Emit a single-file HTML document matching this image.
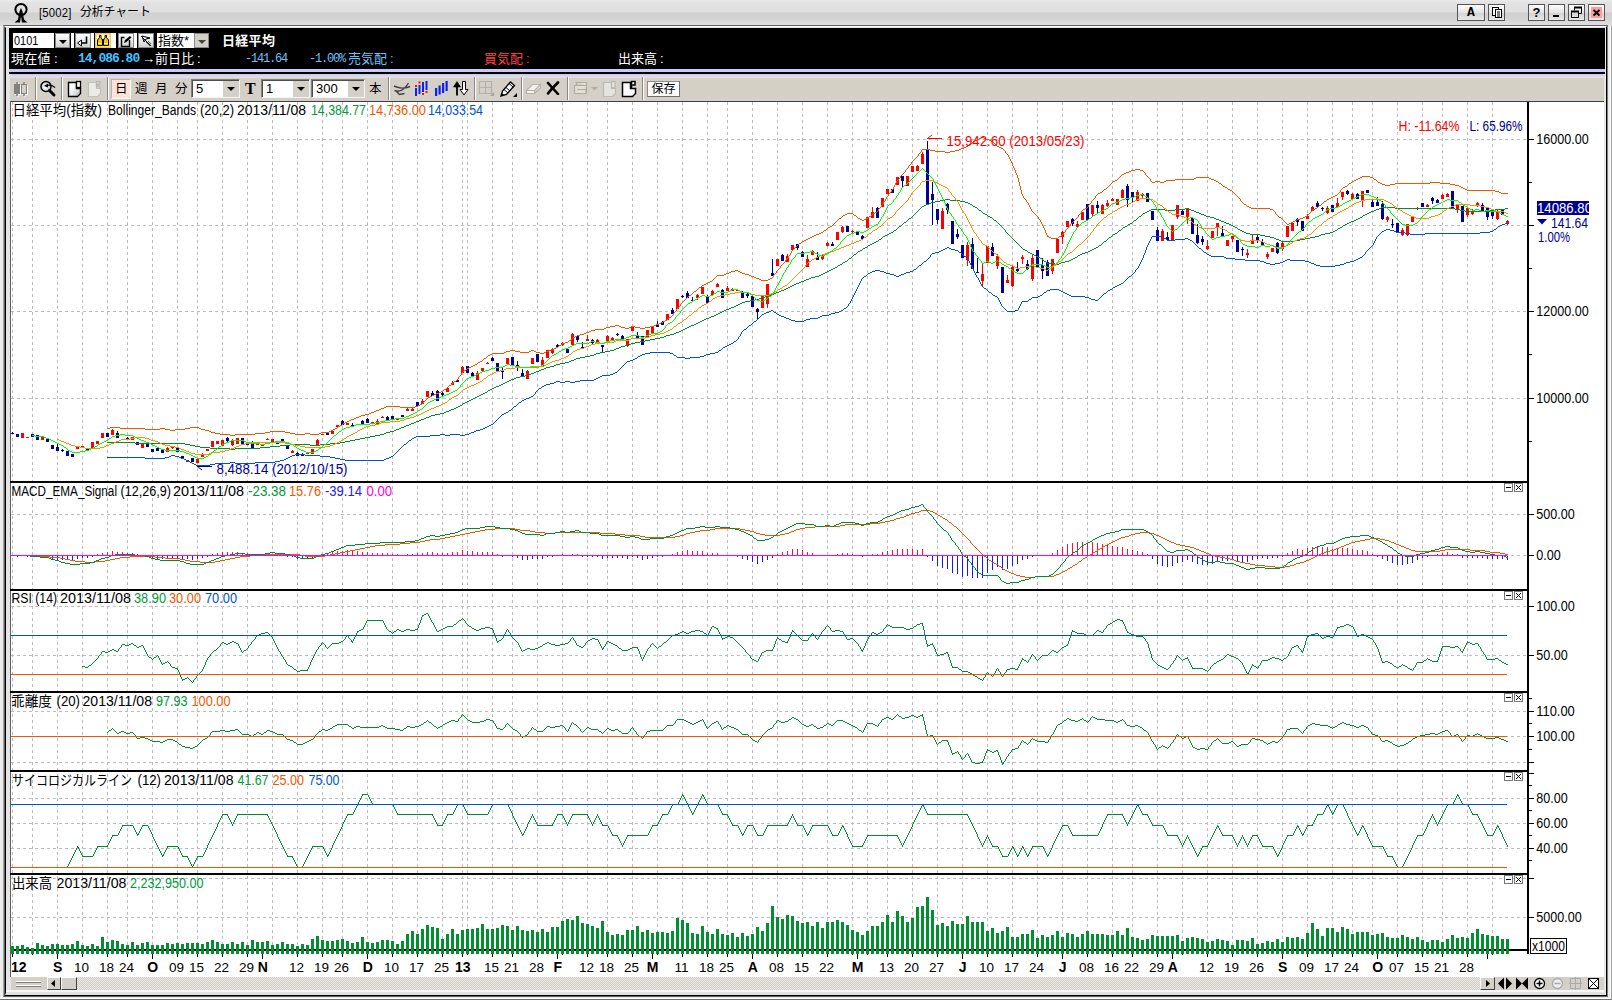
<!DOCTYPE html>
<html lang="ja"><head><meta charset="utf-8"><title>[5002] 分析チャート</title>
<style>
*{box-sizing:border-box;margin:0;padding:0}
html,body{width:1612px;height:1000px;overflow:hidden;background:#fff}
body{position:relative;font-family:"Liberation Sans","Noto Sans CJK JP",sans-serif;font-size:12px;color:#000}
.a{position:absolute}
#tb{left:0;top:0;width:1612px;height:26px;background:linear-gradient(#ebebeb 0,#e1e1e1 3px,#e0e0e0 12px,#cfcfcf 13px,#d3d3d3 18px,#dedede 25px)}
#ttl{left:39px;top:4px;font:12px/18px "Liberation Mono","Noto Sans CJK JP",monospace;white-space:pre}
#ttl i{font-style:normal;font:13px/18px "Liberation Sans",sans-serif;display:inline-block;transform:scaleX(.87);transform-origin:0 0;letter-spacing:.2px}
#ttl b{font-weight:normal;letter-spacing:-.2px;position:absolute;left:41px;top:0}
.wb{top:4px;width:17px;height:17px;border:1px solid #555;background:linear-gradient(#fdfdfd,#e4e4e4 50%,#d2d2d2 51%,#e8e8e8);text-align:center;font:bold 13px/15px "Liberation Sans",sans-serif}
#band{left:9px;top:28px;width:1596px;height:41px;background:#000}
.bt{color:#fff;font:13px/16px "Liberation Sans","Noto Sans CJK JP",sans-serif;white-space:pre;top:51px}
.ib{top:33px;height:15px;background:linear-gradient(#fff,#e6e6e6 55%,#d0d0d0);border:1px solid #888}
#tool{left:10px;top:74px;width:1594px;height:27px;background:linear-gradient(#c8cce8 0,#d4d6e6 2px,#dedede 2px,#dedede 4px,#d4d0c8 4px)}
.sep{top:77px;width:2px;height:23px;border-left:1px solid #8a8782;border-right:1px solid #fff}
  .tt{top:79px;font:12.5px/20px "Liberation Sans","Noto Sans CJK JP",sans-serif}
.cb{top:79px;height:19px;background:#fff;border:1px solid #808080;border-right-color:#f4f4f4;border-bottom-color:#f4f4f4;box-shadow:inset 1px 1px #505050;font:13px/17px "Liberation Sans",sans-serif;padding-left:4px}
.cb i{position:absolute;right:0;top:1px;width:16px;height:16px;background:#d4d0c8}
.cb i:after{content:"";position:absolute;left:4px;top:6px;border:4px solid transparent;border-top:4px solid #000;border-bottom:0}
</style></head>
<body>
<div class="a" id="tb"></div>
<svg class="a" style="left:13px;top:2px" width="17" height="22" viewBox="0 0 17 22"><circle cx="8" cy="7.5" r="5.6" fill="none" stroke="#000" stroke-width="2"/><path d="M8 6 L6.6 9 L5 17.5 L1.5 20.5 L7 20.5 L8 14 L9 20.5 L14.5 20.5 L11 17.5 L9.4 9 Z" fill="#000"/></svg>
<div class="a" id="ttl"><i>[5002]</i><b>分析チャート</b></div>
<div class="a wb" style="left:1457px;width:28px;font-family:'Liberation Mono',monospace">A</div>
<div class="a wb" style="left:1488px"><svg width="15" height="15" viewBox="0 0 15 15"><rect x="3.5" y="2.5" width="6" height="8" fill="#fff" stroke="#000"/><rect x="6.5" y="4.5" width="6" height="8" fill="#fff" stroke="#000"/><path d="M8 7h3M8 9h3M8 11h3" stroke="#000"/></svg></div>
<div class="a wb" style="left:1528px">?</div>
<div class="a wb" style="left:1548px"><svg width="15" height="15"><rect x="4" y="10" width="6" height="2" fill="#000"/></svg></div>
<div class="a wb" style="left:1568px"><svg width="15" height="15" viewBox="0 0 15 15"><path d="M5.5 5.5v-3h7v6h-3" fill="none" stroke="#000"/><path d="M5 2.5h8" stroke="#000" stroke-width="2"/><rect x="2.5" y="6.5" width="7" height="6" fill="none" stroke="#000"/><path d="M2 6.5h8" stroke="#000" stroke-width="2"/></svg></div>
<div class="a wb" style="left:1588px"><svg width="15" height="15" viewBox="0 0 15 15"><rect x="2" y="2" width="11" height="11" fill="#ff9c9c"/><path d="M4.500 5l6 5.500M10.500 5l-6 5.500" stroke="#000" stroke-width="1.800"/></svg></div>
<div class="a" style="left:0;top:26px;width:1612px;height:974px;background:#ececec;border-right:1px solid #a0a0a0;border-bottom:1px solid #707070"></div>
<div class="a" style="left:0;top:998px;width:1611px;height:1px;background:#fff"></div><div class="a" style="left:1610px;top:26px;width:1px;height:973px;background:#fff"></div>
<div class="a" style="left:3px;top:25px;width:1605px;height:972px;border:1px solid #606060;border-left-color:#a0a0a0;border-right-color:#808080;background:#e4e4e4"></div>
<div class="a" style="left:4px;top:26px;width:1603px;height:970px;border:1px solid #000;border-left-color:#606060;border-top-color:#fff"></div>
<div class="a" style="left:5px;top:27px;width:1601px;height:968px;border:1px solid #e0e0e0;border-left-color:#000;border-right-color:#ececec;border-bottom:2px solid #e0e0e0"></div>
<div class="a" style="left:6px;top:990px;width:1598px;height:2px;background:#f6f6f6"></div>
<div class="a" id="band"></div>
<div class="a" style="left:9px;top:69px;width:1596px;height:3px;background:#c8c8fa"></div>
<div class="a" style="left:9px;top:72px;width:1596px;height:2px;background:#000"></div>
<div class="a" style="left:13px;top:33px;width:41px;height:15px;background:#fff;font:13px/15px 'Liberation Sans',sans-serif;padding-left:1px;overflow:hidden"><span style="display:inline-block;transform:scaleX(.84);transform-origin:0 0">0101</span></div>
<div class="a ib" style="left:55px;width:15px"><svg width="13" height="14"><path d="M3 6h8l-4 4z" fill="#000"/></svg></div>
<div class="a" style="left:71px;top:33px;width:3px;height:15px;background:#fff"></div>
<div class="a ib" style="left:75px;width:16px"><svg width="14" height="14" viewBox="0 0 14 14"><path d="M10.5 2.5v6.5h-6" fill="none" stroke="#000" stroke-width="1.6"/><path d="M1.5 9l4-3v6z" fill="#fff" stroke="#000"/></svg></div>
<div class="a" style="left:91px;top:33px;width:3px;height:15px;background:#fff"></div>
<div class="a" style="left:95px;top:33px;width:16px;height:15px;background:#fffdf0;border:1px solid #f8c830;box-shadow:inset 0 0 0 1px #ffe080"><svg width="14" height="13" viewBox="0 0 14 13"><g fill="#f4c400" stroke="#000" stroke-width="1"><path d="M3.500 1.500h1.500v2l1.500 2.500v5.500h-5v-5.500l2-2.500z"/><path d="M9 1.500h1.500v2l2 2.500v5.500h-5v-5.500l1.500-2.500z"/></g><rect x="6" y="5" width="2" height="2.500" fill="#000"/><path d="M2.500 9.500h3M8.500 9.500h3" stroke="#fff" stroke-width=".8"/></svg></div>
<div class="a" style="left:111px;top:33px;width:5px;height:15px;background:#fff"></div>
<div class="a ib" style="left:118px;width:16px"><svg width="14" height="14" viewBox="0 0 14 14"><path d="M10.5 6v6.5h-8v-9h3" fill="none" stroke="#000" stroke-width="1.4"/><path d="M5 9l1-3 5-4 1.5 1.5-5 4.5z" fill="#000"/></svg></div>
<div class="a" style="left:134px;top:33px;width:3px;height:15px;background:#fff"></div>
<div class="a ib" style="left:138px;width:16px"><svg width="14" height="14" viewBox="0 0 14 14"><path d="M2 2l10 10M3 2l2 6 2-3 4-1z" fill="none" stroke="#000"/><path d="M7 8l4 4M9 7l3 3" stroke="#555"/></svg></div>
<div class="a" style="left:157px;top:33px;width:37px;height:15px;background:#fff;font:13px/15px 'Liberation Sans','Noto Sans CJK JP',sans-serif;padding-left:1px;white-space:pre;overflow:hidden">指数*</div>
<div class="a ib" style="left:194px;width:15px;background:#d4d0c8"><svg width="13" height="14"><path d="M3 6h8l-4 4z" fill="#444"/></svg></div>
<div class="a" style="left:222px;top:33px;color:#fff;font:bold 13px/16px 'Liberation Sans','Noto Sans CJK JP',sans-serif;letter-spacing:.3px">日経平均</div>
<div class="a bt" style="left:11px;letter-spacing:.3px">現在値<span style="margin-left:3px">:</span></div>
<div class="a bt" style="left:78px;color:#40c4ff;font-weight:bold;font-family:'Liberation Mono',monospace;letter-spacing:-1px">14,086.80</div>
<div class="a bt" style="left:142px">→前日比<span style="margin-left:3px">:</span></div>
<div class="a bt" style="left:245px;color:#6cc4ff;font-family:'Liberation Mono',monospace;font-size:12px;letter-spacing:-1.2px">-141.64</div>
<div class="a bt" style="left:309px;color:#6cc4ff;font-family:'Liberation Mono',monospace;font-size:12px;letter-spacing:-1.2px">-1.00%</div>
<div class="a bt" style="left:348px;color:#6cc4ff">売気配<span style="margin-left:3px">:</span></div>
<div class="a bt" style="left:484px;color:#ff4040">買気配<span style="margin-left:3px">:</span></div>
<div class="a bt" style="left:618px">出来高<span style="margin-left:3px">:</span></div>
<div class="a" id="tool"></div>
<div class="a sep" style="left:35px"></div>
<div class="a sep" style="left:61px"></div>
<div class="a sep" style="left:107px"></div>
<div class="a sep" style="left:388px"></div>
<div class="a sep" style="left:474px"></div>
<div class="a sep" style="left:521px"></div>
<div class="a sep" style="left:567px"></div>
<div class="a sep" style="left:642px"></div>
<svg class="a" style="left:13px;top:81px" width="16" height="17" viewBox="0 0 16 17"><g fill="#fff" stroke="#fff"><rect x="2.5" y="4.5" width="5" height="9"/><path d="M5 2v14M12 2v14"/><rect x="9.5" y="4.5" width="5" height="9" fill="none"/></g><rect x="1" y="3" width="6" height="10" fill="#808080"/><path d="M4 1v14M11 1v14" stroke="#808080" stroke-width="1.6"/><rect x="8.5" y="3.5" width="5" height="9" fill="#d4d0c8" stroke="#808080"/></svg>
<svg class="a" style="left:39px;top:79px" width="19" height="19" viewBox="0 0 19 19"><defs><radialGradient id="mg" cx=".4" cy=".6"><stop offset="0" stop-color="#fff"/><stop offset="1" stop-color="#ccc"/></radialGradient></defs><circle cx="7" cy="7.5" r="5" fill="url(#mg)" stroke="#000" stroke-width="1.5"/><path d="M10.5 11.5l4.5 4.5" stroke="#000" stroke-width="3" stroke-linecap="round"/><path d="M5 7l4-2.5v4z" fill="#000"/><path d="M8 6.5c3-1 6 0 8 2" fill="none" stroke="#000" stroke-width="1.2"/></svg>
<svg class="a" style="left:67px;top:80px" width="16" height="18" viewBox="0 0 16 18"><defs><linearGradient id="dg" x1="0" y1="0" x2="1" y2="1"><stop offset="0.3" stop-color="#fff"/><stop offset="1" stop-color="#bbb"/></linearGradient></defs><path d="M1.5 2.500h8v6h4v5l-3 3h-9z" fill="url(#dg)" stroke="#000" stroke-width="1.4"/><rect x="9.500" y="1.500" width="4" height="6" fill="#fff" stroke="#000" stroke-width="1.3"/></svg>
<svg class="a" style="left:87px;top:80px" width="16" height="18" viewBox="0 0 16 18"><path d="M1.5 2.5h8v6h4v5l-3 3h-9z" fill="#ecebe8" stroke="#c4c0b8" stroke-width="1.2"/><path d="M9.5 7.500v-6h3.500v3h-3l3.500 3" fill="none" stroke="#bab6ae" stroke-width="1.2"/></svg>
<div class="a" style="left:111px;top:79px;width:20px;height:20px;background:#ffe2d8;border:1px solid #b9b5ad;border-right-color:#fff;border-bottom-color:#fff"></div>
<div class="a tt" style="left:115px">日</div>
<div class="a tt" style="left:135px">週</div>
<div class="a tt" style="left:155px">月</div>
<div class="a tt" style="left:175px">分</div>
<div class="a tt" style="left:369px">本</div>
<div class="a cb" style="left:191px;width:49px">5<i></i></div>
<div class="a" style="left:245px;top:79px;font:bold 16px/20px 'Liberation Serif',serif">T</div>
<div class="a cb" style="left:261px;width:49px">1<i></i></div>
<div class="a cb" style="left:311px;width:54px">300<i></i></div>
<svg class="a" style="left:393px;top:81px" width="18" height="16" viewBox="0 0 18 16"><path d="M1 5c5 2.500 10 3 16 .5M1.500 9.500c5 2 10-1 14-7.500M2.500 9.500l4 4 5-1" fill="none" stroke="#404040" stroke-width="1.400"/></svg>
<svg class="a" style="left:414px;top:80px" width="15" height="17" viewBox="0 0 15 17"><g fill="#1020f0"><rect x="1" y="8" width="2" height="8"/><rect x="4.500" y="5" width="2" height="9"/><rect x="8" y="2" width="2" height="10"/><rect x="11.500" y="1" width="2" height="9"/></g><g fill="#f01010"><rect x="1" y="5" width="2" height="2"/><rect x="4.500" y="1.500" width="2" height="2"/><rect x="8" y="13" width="2" height="2"/><rect x="11.500" y="11" width="2" height="2"/></g></svg>
<svg class="a" style="left:434px;top:80px" width="15" height="17" viewBox="0 0 15 17"><g fill="#1020f0"><rect x="1" y="8" width="2.200" height="8"/><rect x="4.500" y="5.500" width="2.200" height="9"/><rect x="8" y="3" width="2.200" height="10"/><rect x="11.500" y="1" width="2.200" height="10"/></g></svg>
<svg class="a" style="left:452px;top:80px" width="18" height="17" viewBox="0 0 18 17"><path d="M5 15.500v-10" stroke="#000" stroke-width="1.800"/><path d="M1.500 7l3.500-5.500 3.500 5.500z" fill="#000" stroke="#000" stroke-width=".6"/><path d="M10.500 1.500h3v8h2.500l-4 5.500-4-5.500h2.500z" fill="#fff" stroke="#000" stroke-width="1"/></svg>
<svg class="a" style="left:478px;top:80px" width="17" height="17" viewBox="0 0 17 17"><path d="M1.5 1.500h12v12h-12zM1.500 7.500h12M7.500 1.500v12" fill="none" stroke="#b5b1a9" stroke-width="1.200"/><path d="M16 12v4h-4z" fill="#a8a49c"/></svg>
<svg class="a" style="left:499px;top:80px" width="19" height="18" viewBox="0 0 19 18"><path d="M2 16l1.500-5 8-9 4 3.500-8 9z" fill="#fff" stroke="#000" stroke-width="1.400"/><path d="M5 9.500l4 3.500M10 3.500l4 3.500M7 7.500l4 3.500" stroke="#000" stroke-width="1"/><path d="M2 16l1-3 2 2z" fill="#000"/><path d="M18 13v4h-4z" fill="#000"/></svg>
<svg class="a" style="left:525px;top:82px" width="17" height="13" viewBox="0 0 17 13"><path d="M1.5 8.500l6-6h8l-6 6zM1.500 8.500v3h8v-3M9.500 11.500l6-6v-3" fill="#f3f2ef" stroke="#b5b1a9" stroke-width="1.100"/></svg>
<svg class="a" style="left:546px;top:81px" width="14" height="14" viewBox="0 0 14 14"><path d="M2 2l10 11M12 1.500c-3 3-7 7-10 11" fill="none" stroke="#000" stroke-width="2.600" stroke-linecap="round"/></svg>
<svg class="a" style="left:574px;top:81px" width="24" height="14" viewBox="0 0 24 14"><path d="M2.500 1.500h10v11h-12v-8h2zM2.500 1.500v3h10M3 8.500h9v4" fill="#e2dfd8" stroke="#b0aca4" stroke-width="1.200"/><path d="M17 6h7l-3.500 3.500z" fill="#b0aca4"/></svg>
<svg class="a" style="left:602px;top:80px" width="16" height="18" viewBox="0 0 16 18"><path d="M1.500 2.500h8v6h4v5l-3 3h-9z" fill="#e6e4df" stroke="#bdb9b1" stroke-width="1.200"/><rect x="9.500" y="1.500" width="3.500" height="6" fill="#e6e4df" stroke="#bdb9b1" stroke-width="1.200"/></svg>
<svg class="a" style="left:621px;top:80px" width="17" height="18" viewBox="0 0 17 18"><path d="M1.500 2.500h8v6h5v5l-3 3h-10z" fill="#fff" stroke="#000" stroke-width="1.500"/><path d="M10.500 8.500v-7h3.500v3.500h-3.500" fill="#fff" stroke="#000" stroke-width="1.500"/></svg>
<div class="a" style="left:647px;top:81px;width:33px;height:16px;background:#fff;border:1px solid #8c8c8c;border-right-color:#707070;border-bottom-color:#707070;font:12px/14px 'Liberation Sans','Noto Sans CJK JP',sans-serif;text-align:center;letter-spacing:0">保存</div>
<svg class="a" style="left:0;top:0" width="1612" height="1000" viewBox="0 0 1612 1000" shape-rendering="crispEdges" font-family="Liberation Sans, Noto Sans CJK JP, sans-serif"><rect x="10" y="101" width="1594" height="876" fill="#fff"/>
<rect x="10" y="101" width="1594" height="1" fill="#404040"/>
<rect x="10" y="101" width="1" height="876" fill="#606060"/>
<path d="M12.5 102V954M32.5 102V954M57.5 102V954M82.5 102V954M107.5 102V954M127.5 102V954M152.5 102V954M177.5 102V954M197.5 102V954M222.5 102V954M247.5 102V954M272.5 102V954M297.5 102V954M322.5 102V954M342.5 102V954M367.5 102V954M392.5 102V954M417.5 102V954M442.5 102V954M462.5 102V954M467.5 102V954M492.5 102V954M512.5 102V954M537.5 102V954M562.5 102V954M587.5 102V954M607.5 102V954M632.5 102V954M657.5 102V954M682.5 102V954M707.5 102V954M727.5 102V954M752.5 102V954M777.5 102V954M802.5 102V954M827.5 102V954M852.5 102V954M867.5 102V954M887.5 102V954M912.5 102V954M937.5 102V954M962.5 102V954M987.5 102V954M1012.5 102V954M1037.5 102V954M1062.5 102V954M1087.5 102V954M1112.5 102V954M1132.5 102V954M1157.5 102V954M1182.5 102V954M1207.5 102V954M1232.5 102V954M1257.5 102V954M1282.5 102V954M1307.5 102V954M1332.5 102V954M1352.5 102V954M1372.5 102V954M1397.5 102V954M1422.5 102V954M1442.5 102V954M1467.5 102V954M1492.5 102V954M11 139.5H1527M11 225.5H1527M11 311.5H1527M11 398.5H1527M11 514.5H1527M11 555.5H1527M11 606.5H1527M11 655.5H1527M11 711.5H1527M11 736.5H1527M11 762.5H1527M11 798.5H1527M11 823.5H1527M11 848.5H1527M11 878.5H1527M11 917.5H1527" stroke="#bcbcbc" stroke-width="1" stroke-dasharray="3 3" fill="none"/>
<path d="M22.5 433V438M27.5 437V438M42.5 437V440M77.5 447V449M82.5 446V447M92.5 442V448M97.5 441V444M102.5 433V438M112.5 429V435M132.5 437V440M142.5 444V448M167.5 447V452M172.5 446V449M187.5 460V462M197.5 459V463M202.5 453V457M207.5 449V451M212.5 441V447M217.5 441V444M222.5 440V446M232.5 439V446M237.5 438V444M257.5 443V445M262.5 444V446M267.5 438V440M272.5 439V442M292.5 450V453M307.5 453V454M312.5 449V454M317.5 439V445M322.5 434V435M332.5 430V434M337.5 425V427M347.5 423V425M357.5 424V425M372.5 422V423M377.5 419V424M382.5 416V418M397.5 419V419M407.5 408V411M412.5 408V411M422.5 399V404M427.5 391V397M447.5 387V392M452.5 381V385M462.5 366V373M477.5 371V380M482.5 368V371M487.5 362V364M507.5 358V364M527.5 370V379M532.5 358V364M542.5 357V366M547.5 350V358M552.5 348V354M562.5 342V346M572.5 333V345M587.5 335V341M597.5 339V343M607.5 335V342M612.5 337V341M627.5 339V347M632.5 326V331M647.5 330V337M652.5 327V334M667.5 314V320M677.5 299V309M697.5 294V300M702.5 287V294M712.5 290V295M717.5 283V287M727.5 286V291M732.5 288V291M737.5 289V291M762.5 296V308M767.5 284V308M777.5 259V266M787.5 254V262M792.5 245V250M807.5 255V267M812.5 250V255M822.5 254V260M827.5 242V246M837.5 232V240M842.5 226V233M852.5 230V234M867.5 217V228M872.5 207V218M882.5 198V207M887.5 189V194M897.5 177V185M907.5 176V186M912.5 166V172M917.5 165V171M922.5 152V164M942.5 208V229M967.5 242V266M982.5 264V287M987.5 246V263M997.5 254V269M1007.5 275V283M1012.5 266V287M1022.5 255V264M1032.5 255V281M1052.5 259V274M1057.5 238V253M1062.5 231V244M1067.5 221V227M1077.5 221V227M1082.5 212V220M1092.5 205V217M1102.5 204V214M1107.5 200V207M1112.5 198V201M1117.5 199V205M1122.5 189V198M1137.5 190V201M1142.5 193V198M1162.5 229V241M1172.5 225V240M1177.5 205V219M1187.5 208V224M1207.5 240V250M1212.5 231V238M1217.5 223V236M1227.5 240V246M1232.5 236V242M1247.5 249V258M1252.5 235V244M1267.5 252V259M1272.5 248V252M1282.5 242V251M1287.5 226V237M1292.5 223V231M1307.5 214V219M1312.5 206V211M1327.5 206V214M1337.5 198V207M1342.5 192V200M1352.5 193V199M1362.5 191V207M1387.5 216V222M1402.5 228V236M1407.5 224V236M1412.5 217V222M1417.5 207V210M1427.5 204V207M1442.5 194V199M1447.5 193V197M1457.5 205V213M1467.5 208V217M1472.5 209V215M1477.5 202V207M1497.5 209V220M1507.5 220V225" stroke="#ff0000" stroke-width="1" fill="none"/>
<path d="M12.5 432V434M17.5 434V437M32.5 434V437M37.5 435V440M47.5 438V442M52.5 445V449M57.5 444V451M62.5 449V452M67.5 451V456M72.5 454V457M87.5 449V450M107.5 433V437M117.5 431V438M122.5 434V435M127.5 437V439M137.5 442V445M147.5 442V447M152.5 449V452M157.5 448V451M162.5 450V453M177.5 448V452M182.5 456V459M192.5 458V462M227.5 437V442M242.5 438V445M247.5 443V445M252.5 441V448M277.5 441V444M282.5 439V442M287.5 446V449M297.5 452V456M302.5 453V456M327.5 433V435M342.5 420V425M352.5 423V427M362.5 420V424M367.5 418V423M387.5 416V420M392.5 416V419M402.5 415V417M417.5 402V406M432.5 391V396M437.5 390V401M442.5 392V396M457.5 379V382M467.5 366V373M472.5 372V376M492.5 357V361M497.5 363V372M502.5 368V379M512.5 357V365M517.5 361V371M522.5 369V377M537.5 354V362M557.5 344V347M567.5 348V353M577.5 336V342M582.5 342V349M592.5 339V345M602.5 345V352M617.5 333V336M622.5 335V340M637.5 332V338M642.5 336V345M657.5 321V327M662.5 321V325M672.5 308V314M682.5 295V298M687.5 291V298M692.5 297V302M707.5 295V303M722.5 289V298M742.5 291V298M747.5 293V298M752.5 296V307M757.5 308V319M772.5 259V276M782.5 254V261M797.5 244V250M802.5 251V257M817.5 252V260M832.5 242V246M847.5 226V232M857.5 232V235M862.5 235V239M877.5 207V218M892.5 189V193M902.5 176V187M927.5 141V205M932.5 182V225M937.5 209V224M947.5 203V214M952.5 221V244M957.5 229V239M962.5 245V258M972.5 238V269M977.5 258V273M992.5 243V256M1002.5 267V293M1017.5 262V272M1027.5 260V270M1037.5 250V267M1042.5 258V279M1047.5 260V276M1072.5 218V226M1087.5 204V220M1097.5 201V213M1127.5 184V207M1132.5 192V203M1147.5 193V202M1152.5 211V220M1157.5 227V241M1167.5 232V240M1182.5 210V215M1192.5 218V234M1197.5 224V244M1202.5 236V245M1222.5 226V237M1237.5 240V252M1242.5 247V256M1257.5 235V243M1262.5 239V245M1277.5 242V254M1297.5 218V226M1302.5 221V231M1317.5 201V207M1322.5 207V211M1332.5 205V212M1347.5 190V195M1357.5 193V199M1367.5 190V193M1372.5 199V207M1377.5 197V206M1382.5 201V220M1392.5 219V228M1397.5 223V232M1422.5 203V207M1432.5 197V204M1437.5 199V203M1452.5 191V208M1462.5 206V222M1482.5 203V211M1487.5 208V220M1492.5 211V219M1502.5 210V215" stroke="#000098" stroke-width="1" fill="none"/>
<path d="M21 433h3v5h-3zM26 437h3v1h-3zM41 437h3v3h-3zM76 447h3v2h-3zM81 446h3v1h-3zM91 442h3v6h-3zM96 441h3v3h-3zM101 433h3v5h-3zM111 430h3v5h-3zM131 437h3v3h-3zM141 444h3v4h-3zM166 448h3v4h-3zM171 447h3v1h-3zM186 460h3v2h-3zM196 459h3v4h-3zM201 454h3v3h-3zM206 449h3v2h-3zM211 441h3v6h-3zM216 441h3v3h-3zM221 440h3v6h-3zM231 441h3v4h-3zM236 438h3v6h-3zM256 443h3v2h-3zM261 444h3v2h-3zM266 439h3v1h-3zM271 439h3v3h-3zM291 451h3v2h-3zM306 453h3v1h-3zM311 449h3v5h-3zM316 440h3v5h-3zM321 434h3v1h-3zM331 431h3v3h-3zM336 425h3v2h-3zM346 423h3v2h-3zM356 424h3v1h-3zM371 422h3v1h-3zM376 421h3v3h-3zM381 417h3v1h-3zM396 419h3v1h-3zM406 409h3v2h-3zM411 409h3v2h-3zM421 401h3v3h-3zM426 391h3v6h-3zM446 388h3v4h-3zM451 383h3v2h-3zM461 367h3v6h-3zM476 373h3v7h-3zM481 368h3v3h-3zM486 363h3v1h-3zM506 358h3v6h-3zM526 371h3v8h-3zM531 358h3v6h-3zM541 360h3v6h-3zM546 350h3v8h-3zM551 349h3v4h-3zM561 343h3v2h-3zM571 334h3v11h-3zM586 339h3v2h-3zM596 340h3v3h-3zM606 336h3v6h-3zM611 338h3v3h-3zM626 339h3v6h-3zM631 326h3v5h-3zM646 330h3v7h-3zM651 327h3v7h-3zM666 314h3v6h-3zM676 299h3v10h-3zM696 295h3v3h-3zM701 287h3v7h-3zM711 291h3v4h-3zM716 284h3v3h-3zM726 288h3v3h-3zM731 289h3v2h-3zM736 290h3v1h-3zM761 296h3v12h-3zM766 284h3v20h-3zM776 259h3v7h-3zM786 256h3v6h-3zM791 245h3v5h-3zM806 259h3v8h-3zM811 251h3v4h-3zM821 255h3v4h-3zM826 243h3v3h-3zM836 232h3v8h-3zM841 227h3v5h-3zM851 231h3v1h-3zM866 217h3v11h-3zM871 212h3v6h-3zM881 198h3v9h-3zM886 189h3v5h-3zM896 177h3v8h-3zM906 176h3v10h-3zM911 166h3v6h-3zM916 166h3v5h-3zM921 154h3v10h-3zM941 211h3v18h-3zM966 245h3v15h-3zM981 274h3v7h-3zM986 246h3v17h-3zM996 256h3v10h-3zM1006 280h3v3h-3zM1011 267h3v19h-3zM1021 257h3v2h-3zM1031 258h3v21h-3zM1051 259h3v12h-3zM1056 239h3v14h-3zM1061 232h3v5h-3zM1066 221h3v6h-3zM1076 224h3v3h-3zM1081 212h3v8h-3zM1091 205h3v9h-3zM1101 205h3v9h-3zM1106 203h3v3h-3zM1111 199h3v2h-3zM1116 199h3v6h-3zM1121 190h3v8h-3zM1136 192h3v9h-3zM1141 194h3v2h-3zM1161 231h3v10h-3zM1171 225h3v15h-3zM1176 205h3v12h-3zM1186 208h3v9h-3zM1206 246h3v3h-3zM1211 231h3v7h-3zM1216 223h3v5h-3zM1226 240h3v6h-3zM1231 236h3v3h-3zM1246 253h3v2h-3zM1251 240h3v4h-3zM1266 254h3v3h-3zM1271 248h3v4h-3zM1281 243h3v6h-3zM1286 226h3v11h-3zM1291 223h3v8h-3zM1306 216h3v3h-3zM1311 207h3v4h-3zM1326 208h3v5h-3zM1336 203h3v4h-3zM1341 192h3v5h-3zM1351 194h3v5h-3zM1361 191h3v10h-3zM1386 217h3v3h-3zM1401 230h3v5h-3zM1406 224h3v11h-3zM1411 217h3v5h-3zM1416 208h3v1h-3zM1426 205h3v2h-3zM1441 195h3v4h-3zM1446 194h3v3h-3zM1456 205h3v5h-3zM1466 208h3v7h-3zM1471 211h3v3h-3zM1476 203h3v2h-3zM1496 212h3v7h-3zM1506 221h3v3h-3z" fill="#ff0000"/>
<path d="M11 433h3v1h-3zM16 434h3v3h-3zM31 434h3v3h-3zM36 435h3v5h-3zM46 438h3v4h-3zM51 445h3v4h-3zM56 447h3v4h-3zM61 450h3v1h-3zM66 451h3v5h-3zM71 454h3v3h-3zM86 449h3v1h-3zM106 433h3v4h-3zM116 433h3v5h-3zM121 434h3v1h-3zM126 438h3v1h-3zM136 442h3v3h-3zM146 442h3v5h-3zM151 449h3v3h-3zM156 448h3v3h-3zM161 450h3v3h-3zM176 448h3v4h-3zM181 456h3v3h-3zM191 458h3v4h-3zM226 438h3v3h-3zM241 438h3v7h-3zM246 443h3v2h-3zM251 443h3v5h-3zM276 441h3v3h-3zM281 439h3v3h-3zM286 446h3v3h-3zM296 453h3v3h-3zM301 454h3v2h-3zM326 433h3v2h-3zM341 421h3v4h-3zM351 425h3v2h-3zM361 421h3v3h-3zM366 419h3v4h-3zM386 417h3v3h-3zM391 416h3v3h-3zM401 415h3v2h-3zM416 402h3v4h-3zM431 393h3v3h-3zM436 391h3v10h-3zM441 393h3v2h-3zM456 380h3v2h-3zM466 366h3v7h-3zM471 373h3v3h-3zM491 358h3v3h-3zM496 363h3v9h-3zM501 370h3v2h-3zM511 357h3v8h-3zM516 365h3v3h-3zM521 373h3v4h-3zM536 354h3v8h-3zM556 345h3v2h-3zM566 349h3v4h-3zM576 336h3v4h-3zM581 347h3v2h-3zM591 340h3v3h-3zM601 345h3v2h-3zM616 334h3v1h-3zM621 336h3v4h-3zM636 335h3v3h-3zM641 336h3v9h-3zM656 325h3v2h-3zM661 322h3v3h-3zM671 310h3v4h-3zM681 296h3v1h-3zM686 293h3v5h-3zM691 300h3v1h-3zM706 296h3v7h-3zM721 290h3v8h-3zM741 293h3v5h-3zM746 294h3v2h-3zM751 296h3v11h-3zM756 309h3v3h-3zM771 273h3v3h-3zM781 255h3v6h-3zM796 244h3v4h-3zM801 252h3v5h-3zM816 257h3v3h-3zM831 244h3v2h-3zM846 226h3v6h-3zM856 232h3v3h-3zM861 236h3v3h-3zM876 208h3v10h-3zM891 189h3v4h-3zM901 176h3v5h-3zM926 150h3v55h-3zM931 194h3v6h-3zM936 209h3v11h-3zM946 204h3v6h-3zM951 221h3v23h-3zM956 234h3v3h-3zM961 245h3v13h-3zM971 244h3v25h-3zM976 272h3v1h-3zM991 247h3v9h-3zM1001 267h3v26h-3zM1016 269h3v2h-3zM1026 264h3v5h-3zM1036 250h3v17h-3zM1041 265h3v6h-3zM1046 262h3v14h-3zM1071 219h3v5h-3zM1086 204h3v16h-3zM1096 205h3v3h-3zM1126 186h3v14h-3zM1131 192h3v6h-3zM1146 193h3v9h-3zM1151 211h3v9h-3zM1156 230h3v11h-3zM1166 237h3v3h-3zM1181 211h3v4h-3zM1191 218h3v16h-3zM1196 235h3v8h-3zM1201 239h3v3h-3zM1221 233h3v4h-3zM1236 240h3v12h-3zM1241 249h3v1h-3zM1256 237h3v4h-3zM1261 242h3v3h-3zM1276 243h3v10h-3zM1296 219h3v3h-3zM1301 221h3v10h-3zM1316 203h3v4h-3zM1321 208h3v1h-3zM1331 205h3v7h-3zM1346 191h3v3h-3zM1356 194h3v5h-3zM1366 190h3v3h-3zM1371 202h3v5h-3zM1376 202h3v4h-3zM1381 204h3v15h-3zM1391 224h3v1h-3zM1396 223h3v9h-3zM1421 203h3v4h-3zM1431 198h3v3h-3zM1436 200h3v3h-3zM1451 191h3v17h-3zM1461 206h3v16h-3zM1481 205h3v6h-3zM1486 208h3v9h-3zM1491 211h3v5h-3zM1501 210h3v5h-3z" fill="#000098"/>
<g stroke="#f05800" fill="none"><path transform="translate(0 .5)" d="M710 281h2M935 151h10M950 151h5M610 326h5M619 326h2M631 326h4M650 326h4M107 428h3M120 428h25M160 428h5M185 428h5M199 428h2M335 428h2M1194 178h2M1209 178h2M1358 178h2M839 218h2M858 218h2M866 218h2M1300 218h3M860 219h2M864 219h2M1297 219h3M1098 193h2M1501 193h7M365 414h4M1331 197h2M1230 190h2M1467 190h28M1115 180h2M1166 180h9M1214 180h2M1354 180h2M810 237h2M1049 237h2M220 434h10M235 434h20M295 434h10M310 434h9M1327 199h2M1104 189h2M1228 189h2M1465 189h2M1085 208h2M1251 208h19M1315 208h2M569 340h2M1333 196h2M595 329h9M1382 184h3M1390 184h5M1450 184h5M1113 181h2M1155 181h5M1164 181h2M1216 181h2M1352 181h2M492 353h12M540 353h4M828 227h2M510 350h5M531 350h3M549 350h2M1291 222h2M209 431h2M270 431h15M329 431h2M1219 183h2M1349 183h2M1380 183h2M1395 183h35M1440 183h10M1122 174h2M843 215h2M854 215h2M1131 170h4M1140 170h3M589 331h2M1287 224h2M504 352h2M520 352h9M536 352h4M544 352h2M559 345h2M731 271h4M738 271h2M615 325h4M654 325h2M702 285h2M384 407h2M400 407h15M659 323h2M812 236h2M1047 236h2M1059 236h2M1100 192h2M1499 192h2M875 212h2M215 433h5M255 433h10M290 433h5M305 433h5M319 433h2M1324 201h2M604 328h2M625 328h4M640 328h5M145 429h15M165 429h5M175 429h10M201 429h4M333 429h2M1249 207h2M717 275h7M749 275h2M1329 198h2M756 278h3M770 278h2M386 406h14M415 406h3M1196 177h13M1360 177h2M1370 177h3M1319 205h2M420 404h2M979 138h2M984 138h2M862 220h2M1295 220h2M704 284h2M661 322h2M1293 221h2M751 276h3M922 149h8M959 149h2M473 365h2M804 240h2M1223 186h2M1345 186h2M1459 186h2M211 432h4M265 432h5M285 432h5M321 432h8M845 214h2M1126 172h3M345 422h2M1135 169h5M1362 176h8M819 233h2M1279 217h2M1303 217h2M930 150h5M955 150h4M110 427h10M190 427h9M606 327h4M621 327h4M629 327h2M635 327h5M645 327h5M1244 204h2M945 152h5M1152 182h3M1160 182h4M1378 182h2M1430 182h10M969 144h2M434 394h2M480 361h2M551 349h3M754 277h2M724 274h2M745 274h4M1225 187h2M1343 187h2M1461 187h2M436 393h3M1175 179h19M1211 179h3M1356 179h2M1374 179h2M1495 191h4M808 238h2M1051 238h7M575 336h2M354 418h2M847 213h6M873 213h2M490 354h2M656 324h3M170 430h5M205 430h4M331 430h2M577 335h3M1289 223h2M418 405h2M726 273h3M742 273h3M230 435h5M977 139h2M986 139h3M374 411h2M506 351h4M515 351h5M529 351h2M534 351h2M546 351h3M1385 185h5M1455 185h4M761 280h7M830 226h2M1247 206h2M449 385h2M591 330h4M464 370h2M586 332h3M729 272h2M740 272h2M432 395h2M869 216h2M1305 216h2M694 291h2M356 417h3M351 419h3M1083 209h2M1270 209h3M1313 209h2M471 366h2M444 389h2M1463 188h2M343 423h2M816 234h3M759 279h2M768 279h2M821 232h2M359 416h2M961 148h3M1001 148h2M799 243h2M669 317h2M441 391h2M376 410h3M1124 173h2M361 415h4M806 239h2M973 141h2M991 141h2M556 347h2M699 287h2M467 368h2M964 147h2M999 147h2M975 140h2M989 140h2M371 412h3M1335 195h2M340 425h2M824 230h2M562 343h3M735 270h3M981 137h3M565 342h3M584 333h2M430 396h2M966 146h2M997 146h2M488 355h2M381 408h3M484 358h2M469 367h2M814 235h2M706 283h2M663 321h2M439 392h2M708 282h2M665 320h2M1129 171h2M689 295h2M349 420h2M554 348h2M338 426h2M369 413h2M580 334h4M478 362h2M428 397h2M454 381h2M573 337h2M475 364h2M379 409h2M347 421h2M802 241h2"/><path transform="translate(.5 0)" d="M921 150v2M1005 151v2M667 319v1M687 297v1M899 178v1M1018 178v4M1118 178v1M1149 178v1M1373 178v1M1038 217v2M1076 218v1M1281 218v1M838 219v1M1039 219v1M1075 219v1M1282 219v1M911 162v2M1012 163v3M972 142v1M993 142v1M483 359v1M889 193v1M1021 190v4M1234 193v1M1338 193v1M886 197v2M1023 196v2M1095 196v2M1238 197v1M891 190v2M1103 190v1M1340 190v2M897 180v1M1150 179v2M1376 180v1M1058 237v1M885 199v2M1025 199v1M1093 199v1M1240 199v2M892 189v1M1020 186v4M1341 189v1M879 208v1M1030 207v2M674 312v1M887 196v1M1237 196v1M895 183v2M1019 182v4M1110 184v1M1221 184v1M1348 184v1M915 158v1M1009 157v2M896 181v2M1151 181v1M1377 181v1M1043 226v2M1068 227v1M914 159v1M1010 159v2M835 222v1M1041 222v2M1072 222v1M1285 222v1M1111 183v1M902 174v1M1016 173v2M1145 173v2M871 215v1M1036 215v1M1078 215v2M1277 215v1M1307 215v1M905 170v2M1015 170v3M833 224v1M1042 224v2M1070 224v2M776 271v2M890 192v1M1233 192v1M1339 192v1M1033 212v1M1081 211v2M1275 212v2M1310 212v1M884 201v1M1026 200v2M1091 201v2M1241 201v1M790 253v2M785 260v2M880 207v1M1087 207v1M1317 207v1M773 275v2M1024 198v1M1094 198v1M1239 198v1M714 278v1M900 176v2M1017 175v3M1119 177v1M1148 177v1M881 205v2M1029 205v2M1088 205v2M1246 205v1M837 220v1M1040 220v2M1074 220v1M1283 220v1M558 346v1M836 221v1M1073 221v1M1284 221v1M793 249v1M716 276v1M827 228v1M1044 228v2M1067 228v1M1003 149v1M784 262v1M912 161v1M1011 161v2M894 185v2M1108 186v1M446 388v1M823 231v1M1045 230v3M1065 230v2M853 214v1M872 214v1M1035 214v1M1079 214v1M1276 214v1M1308 214v1M904 172v1M1144 172v1M906 169v1M1014 168v2M1120 176v1M1147 176v1M1046 233v2M1063 233v1M913 160v1M841 217v1M857 217v1M868 217v1M1077 217v1M1004 150v1M908 166v2M1013 166v2M676 309v2M883 202v2M1028 203v2M1090 203v1M1243 203v1M1322 203v1M337 427v1M882 204v1M1089 204v1M1321 204v1M920 152v1M1112 182v1M1218 182v1M1351 182v1M995 144v1M907 168v1M452 383v1M918 154v2M1008 155v2M715 277v1M772 277v1M774 274v1M686 298v1M901 175v1M1121 175v1M1146 175v1M893 187v2M1107 187v1M898 179v1M1117 179v1M1102 191v1M1232 191v1M693 292v1M1034 213v1M1080 213v1M1309 213v1M701 286v1M789 255v1M1092 200v1M1326 200v1M971 143v1M994 143v1M826 229v1M1066 229v1M801 242v1M834 223v1M1071 223v1M1286 223v1M443 390v1M775 273v1M681 303v1M878 209v2M1031 209v2M1082 210v1M1273 210v1M1312 210v1M788 256v2M451 384v1M1109 185v1M1222 185v1M1347 185v1M668 318v1M688 296v1M712 280v1M832 225v1M680 304v2M458 377v2M1069 226v1M1318 206v1M968 145v1M996 145v1M457 379v1M842 216v1M856 216v1M1037 216v1M1278 216v1M794 248v1M487 356v1M698 288v1M798 244v1M1106 188v1M1227 188v1M1342 188v1M1062 234v1M713 279v1M1064 232v1M424 401v1M482 360v1M877 211v1M1032 211v1M1274 211v1M1311 211v1M903 173v1M673 313v2M684 300v1M462 372v1M679 306v1M778 269v1M888 194v2M1022 194v2M1096 195v1M1236 195v1M781 265v1M777 270v1M423 402v1M447 387v1M917 156v1M910 164v1M909 165v1M672 315v1M692 293v1M461 373v2M1097 194v1M1235 194v1M1337 194v1M1047 235v1M1061 235v1M791 251v2M425 400v1M787 258v1M919 153v1M1006 153v1M782 264v1M1027 202v1M1242 202v1M1323 202v1M685 299v1M448 386v1M463 371v1M677 308v1M1143 171v1M916 157v1M691 294v1M342 424v1M786 259v1M678 307v1M792 250v1M696 290v1M780 266v2M796 246v1M779 268v1M572 338v1M671 316v1M682 302v1M460 375v1M1007 154v1M422 403v1M795 247v1M426 399v1M783 263v1M456 380v1M675 311v1M571 339v1M486 357v1M459 376v1M697 289v1M466 369v1M797 245v1M561 344v1M477 363v1M427 398v1M683 301v1M453 382v1M568 341v1"/></g>
<g stroke="#0054c8" fill="none"><path transform="translate(0 .5)" d="M440 434h5M450 434h10M465 434h4M872 271h3M880 271h4M910 271h3M556 381h4M565 381h5M575 381h5M1047 290h3M1059 290h2M1108 290h2M1065 293h2M1104 293h2M1245 260h15M1285 260h2M1290 260h15M1354 260h2M169 456h2M175 456h4M290 456h2M320 456h10M391 456h2M1384 230h2M1390 230h4M1067 294h2M932 253h3M650 352h20M715 352h3M107 457h38M165 457h4M179 457h2M288 457h2M330 457h5M389 457h2M1410 234h15M474 431h2M964 256h2M1211 256h13M192 463h2M215 463h15M235 463h20M1152 236h11M1405 233h5M1425 233h55M1270 264h5M1314 264h2M1340 264h4M677 357h8M690 357h10M145 458h20M181 458h3M286 458h2M335 458h5M386 458h3M919 265h2M1316 265h4M1335 265h5M924 261h2M1260 261h4M1283 261h2M1305 261h4M1350 261h4M1264 262h2M1280 262h3M1309 262h2M1346 262h4M171 455h4M292 455h3M305 455h15M1032 297h6M1085 297h4M416 436h14M771 310h2M841 310h2M1015 310h3M1396 232h9M1480 232h10M993 295h2M1040 295h2M1069 295h2M844 308h2M766 312h3M774 312h2M835 312h4M995 296h2M1038 296h2M1071 296h14M779 315h2M822 315h7M1235 259h10M1287 259h3M1356 259h2M1050 289h9M1110 289h2M769 311h2M839 311h2M1007 311h8M1175 239h10M1188 239h2M890 274h4M901 274h3M580 380h14M786 318h3M810 318h8M1266 263h4M1275 263h5M1311 263h3M1344 263h2M789 319h2M806 319h4M945 248h2M949 248h2M1199 248h2M754 321h2M795 321h9M491 424h2M875 270h5M989 292h2M1044 292h2M1063 292h2M184 459h2M284 459h2M340 459h5M384 459h2M1226 258h9M1358 258h2M550 383h4M196 465h14M868 273h2M886 273h4M904 273h2M640 355h2M674 355h2M704 355h2M188 461h2M275 461h5M984 288h2M638 356h2M700 356h4M190 462h2M230 462h5M255 462h20M935 252h4M959 252h2M1204 252h2M186 460h2M280 460h4M345 460h39M598 377h2M1061 291h2M594 379h2M725 346h2M1029 299h2M1091 299h4M943 249h2M951 249h4M762 314h2M777 314h2M829 314h2M635 358h2M685 358h5M630 360h3M1117 285h2M554 382h2M560 382h5M570 382h5M485 427h2M894 275h2M899 275h2M1164 238h2M1185 238h3M539 388h2M600 376h2M1382 231h2M1394 231h2M1490 231h3M784 317h2M818 317h2M1207 254h2M1320 266h15M1502 224h3M476 430h4M471 432h3M430 435h10M445 435h5M460 435h5M615 372h2M1115 286h2M194 464h2M210 464h5M941 250h2M955 250h3M642 354h3M706 354h4M602 375h8M1113 287h2M1022 301h6M526 398h3M404 444h2M522 400h2M480 429h3M546 384h4M1089 298h2M781 316h3M820 316h2M1119 284h2M870 272h2M884 272h2M906 272h4M506 412h2M727 345h2M723 347h2M864 276h2M896 276h3M1129 276h2M914 269h2M645 353h5M670 353h3M710 353h5M295 454h10M531 396h2M791 320h4M804 320h2M734 341h2M1505 223h3M1167 240h8M1190 240h2M1500 225h2M1209 255h2M627 361h3M414 437h2M483 428h2M1121 283h2M610 374h3M514 406h2M947 247h2M731 343h2M1095 300h3M524 399h2M1386 229h4M1494 229h2M613 373h2M764 313h2M831 313h4M939 251h2M1224 257h2M1360 257h2M744 329h2M412 438h2M504 413h2M749 325h2M529 397h2M633 359h2M1498 226h2M729 344h2M489 425h2M519 402h2M409 440h2M596 378h2M542 386h2M544 385h2M502 414h2M469 433h2M487 426h2M719 350h2M509 410h2"/><path transform="translate(.5 0)" d="M974 271v2M1135 270v2M856 289v2M987 290v1M854 293v2M991 293v1M1043 293v1M926 260v1M968 259v2M1141 260v2M1493 230v1M992 294v1M1042 294v1M1103 294v1M961 253v1M1144 253v2M1206 253v1M1365 252v2M1379 234v1M401 447v1M930 255v2M1143 255v3M1362 256v1M742 331v1M1377 236v1M1380 233v1M921 264v1M970 263v2M1139 264v2M637 357v1M971 265v2M969 261v2M923 262v1M1140 262v2M393 455v1M852 297v2M997 297v1M1100 297v1M1006 310v1M1381 232v1M853 295v2M1102 295v1M516 405v1M1004 308v1M1018 308v2M843 309v1M1005 309v1M1101 296v1M761 315v1M927 259v1M1142 258v2M986 289v1M773 311v1M1150 239v2M1166 239v1M1375 239v2M867 274v1M975 273v2M1132 274v1M849 303v1M1000 302v2M1021 302v2M758 318v1M495 421v1M922 263v1M741 332v2M757 319v1M1146 247v3M1369 248v1M913 270v1M973 269v2M855 291v2M1106 292v1M407 442v1M928 258v1M967 258v1M499 417v1M1133 273v1M857 287v2M1112 288v1M676 356v1M1145 250v3M988 291v1M1046 291v1M1107 291v1M861 279v2M979 280v2M1125 280v1M851 299v2M998 298v2M1098 299v1M1201 249v1M1368 249v1M1149 241v2M1193 242v1M1374 241v2M858 285v2M981 284v2M533 395v1M866 275v1M976 275v2M1131 275v1M1151 237v2M1376 237v2M617 371v1M1147 245v2M1196 245v1M1372 245v1M1148 243v2M1195 244v1M1373 243v2M759 317v1M931 254v1M962 254v1M1364 254v1M624 364v1M918 266v1M1138 266v2M501 415v1M747 327v1M400 448v1M982 286v1M860 281v2M1124 281v1M1202 250v1M1367 250v1M673 354v1M983 287v1M622 366v1M850 301v2M999 300v2M978 278v2M1126 279v1M916 268v1M972 267v2M1137 268v1M753 322v1M980 282v2M1123 282v1M1031 298v1M1099 298v1M760 316v1M859 283v2M917 267v1M846 307v1M1003 307v1M1019 306v2M1134 272v1M517 404v1M1136 269v1M1194 243v1M394 454v1M493 423v1M756 320v1M623 365v1M500 416v1M746 328v1M738 337v2M963 255v1M1363 255v1M534 394v1M541 387v1M1198 247v1M1370 247v1M740 334v2M1028 300v1M406 443v1M743 330v1M848 304v2M1001 304v2M1020 304v2M538 389v1M1378 235v1M776 313v1M399 449v1M513 407v1M958 251v1M1203 251v1M1366 251v1M929 257v1M966 257v1M621 367v1M521 401v1M397 451v1M739 336v1M508 411v1M863 277v1M977 277v1M1128 277v1M722 348v1M1163 237v1M1192 241v1M537 390v1M733 342v1M398 450v1M518 403v1M752 323v1M620 368v1M497 419v1M402 446v1M847 306v1M1002 306v1M862 278v1M1127 278v1M535 392v2M1197 246v1M1371 246v1M626 362v1M498 418v1M751 324v1M512 408v1M1497 227v1M396 452v1M403 445v1M618 370v1M737 339v1M625 363v1M411 439v1M748 326v1M721 349v1M494 422v1M536 391v1M511 409v1M1496 228v1M619 369v1M496 420v1M395 453v1M408 441v1M718 351v1M736 340v1"/></g>
<g stroke="#008c30" fill="none"><path transform="translate(0 .5)" d="M854 254h2M1032 254h2M1080 254h2M210 448h20M235 448h25M929 203h2M968 203h2M1185 208h4M1379 208h2M1395 208h60M1505 208h3M1038 257h2M1075 257h2M200 447h10M260 447h10M769 295h2M365 437h5M546 367h4M485 392h2M107 442h28M340 442h5M135 443h50M330 443h10M887 234h2M1113 234h2M1250 234h10M1321 234h4M635 342h5M863 248h2M1094 248h2M1338 228h2M195 446h5M270 446h10M424 418h2M355 439h5M190 445h5M280 445h10M310 445h10M394 430h2M940 200h5M950 200h10M1204 215h2M1363 215h2M600 352h5M790 286h2M975 207h2M1381 207h14M1147 211h2M1194 211h2M1371 211h3M1465 211h25M904 222h2M1224 222h2M1349 222h2M979 210h2M1149 210h2M1165 210h10M1191 210h3M1374 210h2M1460 210h5M1490 210h5M625 345h4M876 241h2M1104 241h2M1281 241h14M1221 221h3M1351 221h3M990 217h2M1210 217h4M1360 217h2M716 314h2M375 435h5M885 235h2M1260 235h5M1319 235h2M650 339h5M1274 238h2M1305 238h5M1036 256h2M711 316h3M370 436h5M616 348h3M731 307h3M1238 229h2M421 419h3M454 408h2M845 261h2M1044 261h2M1065 261h4M1242 231h2M1333 231h2M1028 252h2M1085 252h3M840 264h2M1055 264h4M473 398h2M411 423h3M687 327h2M590 355h4M776 292h3M492 388h2M806 279h3M683 329h2M879 239h2M1276 239h3M1300 239h5M1151 209h14M1175 209h10M1189 209h2M1376 209h3M1455 209h5M1495 209h10M520 376h5M1279 240h2M1295 240h5M870 244h2M401 427h3M456 407h2M605 351h5M511 379h3M722 311h2M1030 253h2M1082 253h3M446 411h3M565 362h4M779 291h2M440 413h4M843 262h2M1061 262h4M988 216h2M1139 216h2M1206 216h4M185 444h5M290 444h20M320 444h10M1047 263h8M1059 263h2M829 270h2M429 416h2M799 282h2M825 272h2M761 297h4M794 284h2M541 369h3M724 310h2M909 218h2M1214 218h2M1358 218h2M386 432h4M664 336h2M935 201h5M960 201h5M691 325h3M1071 259h2M1034 255h2M1078 255h2M435 414h5M745 301h5M827 271h2M874 242h2M645 340h5M544 368h2M610 350h4M640 341h5M759 298h2M390 431h4M230 449h5M889 233h2M1115 233h2M1246 233h4M1325 233h5M891 232h2M1244 232h2M1330 232h3M350 440h5M501 384h2M1145 212h2M1196 212h3M1369 212h2M1109 237h2M1270 237h4M1310 237h5M926 204h3M970 204h2M1023 249h2M1092 249h2M819 275h2M585 356h5M714 315h2M1123 227h2M1235 227h2M1340 227h2M883 236h2M1265 236h5M1315 236h4M614 349h2M576 358h4M704 319h2M525 375h4M1216 219h3M1356 219h2M554 365h2M399 428h2M514 378h2M676 332h3M431 415h4M670 334h4M765 296h4M631 343h4M444 412h2M660 337h4M621 346h4M858 251h2M1088 251h2M483 393h2M985 214h2M1201 214h3M1365 214h2M534 372h2M694 324h2M811 277h4M529 374h2M742 302h3M1130 223h2M1226 223h3M1347 223h2M516 377h4M531 373h3M471 399h2M409 424h2M804 280h2M835 267h2M872 243h2M868 245h2M1099 245h2M899 226h2M1125 226h2M1233 226h2M490 389h2M681 330h2M509 380h2M700 321h2M849 258h2M1040 258h2M1073 258h2M860 250h2M1025 250h2M1090 250h2M463 403h2M796 283h3M702 320h2M539 370h2M569 361h2M718 313h2M465 402h2M983 213h2M1143 213h2M1199 213h2M1367 213h2M738 304h2M865 247h2M1096 247h2M922 206h2M973 206h2M479 395h2M945 199h5M503 383h2M419 420h2M784 289h2M380 434h4M499 385h2M994 220h2M1134 220h2M1219 220h2M1354 220h2M709 317h2M580 357h5M360 438h5M815 276h4M786 288h2M467 401h2M666 335h4M560 363h5M550 366h4M396 429h3M792 285h2M750 300h5M689 326h2M655 338h5M619 347h2M931 202h4M965 202h3M924 205h2M481 394h2M596 353h4M1069 260h2M740 303h2M894 230h2M1119 230h2M1240 230h2M1335 230h2M449 410h2M781 290h3M801 281h3M833 268h2M469 400h2M406 425h3M1128 224h2M1229 224h2M1345 224h2M771 294h3M679 331h2M574 359h2M698 322h2M451 409h3M507 381h2M774 293h2M720 312h2M458 406h2M477 396h2M1231 225h2M1343 225h2M416 421h3M384 433h2M460 405h2M706 318h3M726 309h3M488 390h2M729 308h2M505 382h2M426 417h3M823 273h2M496 386h3M404 426h2M571 360h3M696 323h2M629 344h2M345 441h5M475 397h2M809 278h2M594 354h2M494 387h2M685 328h2M831 269h2M788 287h2M755 299h4M838 265h2M734 306h2M821 274h2M536 371h3M414 422h2M736 305h2M674 333h2M556 364h4"/><path transform="translate(.5 0)" d="M920 208v1M977 208v1M851 257v1M1008 234v1M1022 248v1M897 228v1M1003 228v1M1122 228v1M1237 228v1M913 215v1M987 215v1M1141 215v1M921 207v1M917 211v1M981 211v1M997 222v1M1132 222v1M918 210v1M1015 241v1M906 221v1M996 221v1M1133 221v1M911 217v1M1138 217v1M1009 235v1M1112 235v1M881 238v1M1012 238v1M1108 238v1M852 256v1M1077 256v1M896 229v1M1004 229v1M1121 229v1M1337 229v1M893 231v1M1005 230v2M1118 231v1M857 252v1M1013 239v1M1107 239v1M919 209v1M978 209v1M878 240v1M1014 240v1M1106 240v1M1018 244v1M1101 244v1M856 253v1M1046 262v1M912 216v1M1362 216v1M842 263v1M992 218v1M1137 218v1M848 259v1M1042 259v1M853 255v1M1016 242v1M1103 242v1M1007 233v1M1006 232v1M1117 232v1M916 212v1M982 212v1M882 237v1M1011 237v1M862 249v1M898 227v1M1002 227v1M1010 236v1M1111 236v1M908 219v1M993 219v1M1136 219v1M1027 251v1M914 214v1M1142 214v1M903 223v1M998 223v1M1017 243v1M1102 243v1M1019 245v1M1001 226v1M1342 226v1M867 246v1M1020 246v1M1098 246v1M915 213v1M1021 247v1M907 220v1M487 391v1M462 404v1M972 205v1M847 260v1M1043 260v1M837 266v1M902 224v1M999 224v1M901 225v1M1000 225v1M1127 225v1"/></g>
<g stroke="#ff9000" fill="none"><path transform="translate(0 .5)" d="M71 445h4M106 445h3M165 445h5M239 445h2M295 445h5M330 445h3M80 447h5M100 447h4M175 447h4M234 447h2M305 447h20M64 442h2M114 442h2M158 442h2M250 442h35M337 442h2M725 294h5M751 294h4M769 294h2M890 217h2M1104 217h2M1184 217h2M1330 217h2M1414 217h2M1429 217h2M849 244h2M983 244h2M1079 244h2M1267 244h3M1288 244h2M1108 214h2M1172 214h7M1335 214h2M1407 214h2M1438 214h2M720 295h5M755 295h14M846 245h3M985 245h2M1270 245h4M1286 245h2M670 329h2M864 237h2M1304 237h2M471 385h3M925 180h8M1115 210h2M1342 210h2M1400 210h2M1444 210h2M1494 210h2M416 415h3M631 338h14M1013 266h2M1025 266h5M1034 266h2M1124 205h2M1160 205h2M1454 205h2M1470 205h10M379 423h2M515 367h15M191 453h4M209 453h2M875 229h2M1223 229h2M1169 212h2M1338 212h2M1403 212h2M1504 212h2M859 240h2M1241 240h4M1250 240h10M1295 240h2M1126 204h3M1158 204h2M1352 204h2M1456 204h14M1199 227h2M1215 227h5M778 289h2M366 426h4M57 439h2M121 439h9M149 439h2M1113 211h2M1340 211h2M1496 211h8M816 257h2M678 323h2M841 247h3M1276 247h8M573 351h2M1137 199h3M1150 199h3M1365 199h19M812 259h2M943 186h2M530 366h14M61 441h3M116 441h3M155 441h3M339 441h2M717 296h3M419 414h2M861 239h2M1239 239h2M1297 239h3M381 422h9M1324 221h2M130 438h5M145 438h4M344 438h2M439 405h2M856 241h3M1245 241h5M1260 241h3M1293 241h2M735 292h14M773 292h2M660 333h4M1122 206h2M1349 206h2M1394 206h2M1451 206h3M1480 206h5M463 389h2M775 291h2M709 301h2M404 419h2M85 448h15M179 448h2M231 448h3M1201 228h14M1220 228h3M649 336h2M1179 215h2M1333 215h2M1409 215h2M1435 215h3M1118 208h2M1164 208h2M1346 208h2M1447 208h2M1489 208h2M1129 203h2M1354 203h2M1390 203h2M500 370h4M834 250h2M591 344h4M1194 224h2M1344 209h2M1398 209h2M1491 209h3M465 388h2M684 319h2M822 254h3M580 348h4M818 256h2M645 337h4M480 381h2M506 368h9M888 218h2M1186 218h2M1328 218h2M1416 218h13M360 429h2M427 410h2M595 343h10M496 371h4M1110 213h2M1405 213h2M1440 213h2M1506 213h2M1228 232h2M851 243h3M1265 243h2M1290 243h2M488 375h2M839 248h2M820 255h2M1237 238h2M1300 238h4M825 253h4M994 253h2M1068 253h2M1044 269h2M1048 269h2M66 443h3M111 443h3M160 443h2M245 443h5M285 443h5M335 443h2M59 440h2M119 440h2M151 440h4M341 440h2M666 331h2M1181 216h3M1411 216h3M1431 216h4M467 387h2M414 416h2M349 435h2M550 362h2M186 451h3M220 451h5M730 293h5M749 293h2M771 293h2M1140 198h10M1131 202h2M1356 202h3M1388 202h2M390 421h10M1133 201h2M1154 201h2M1359 201h2M1386 201h2M809 261h2M1059 261h2M69 444h2M109 444h2M162 444h3M241 444h4M290 444h5M333 444h2M1189 220h2M375 424h4M135 437h10M655 334h5M1017 268h3M1040 268h4M1050 268h2M1234 236h2M1306 236h2M436 406h3M1309 234h2M1010 265h3M1030 265h4M1054 265h2M854 242h2M1263 242h2M785 285h2M1015 267h2M1020 267h5M1036 267h4M1120 207h2M1449 207h2M1485 207h4M616 340h13M869 233h2M1230 233h2M844 246h2M1274 246h2M1284 246h2M195 454h14M922 181h3M933 181h2M783 286h2M561 358h3M75 446h5M104 446h2M170 446h5M236 446h3M300 446h5M325 446h5M445 402h2M629 339h2M469 386h2M879 226h2M1197 226h2M552 361h3M364 427h2M347 436h2M184 450h2M225 450h4M406 418h4M431 408h3M400 420h4M831 251h3M674 326h2M569 354h2M589 345h2M494 372h2M434 407h2M945 187h2M704 304h2M1135 200h2M1361 200h4M1384 200h2M478 382h2M939 184h2M555 360h4M873 230h2M1225 230h2M614 341h2M668 330h2M715 297h2M441 404h2M189 452h2M211 452h9M181 449h3M229 449h2M651 335h4M548 363h2M699 307h2M456 395h2M452 397h2M1319 225h2M605 342h9M575 350h2M425 411h2M355 432h2M474 384h2M421 413h2M780 288h2M935 182h2M577 349h3M423 412h2M1004 262h2M836 249h3M370 425h5M484 378h2M362 428h2M941 185h2M1007 264h3M429 409h2M449 399h2M829 252h2M1070 252h2M586 346h3M706 303h2M814 258h2M559 359h2M443 403h2M689 315h2M358 430h2M492 373h2M564 357h2M1046 270h2M476 383h2M937 183h2M353 433h2M713 298h2M410 417h4M546 364h2M664 332h2M504 369h2M584 347h2M351 434h2M544 365h2M566 356h2M490 374h2M680 322h2M702 305h2M454 396h2M694 311h2"/><path transform="translate(.5 0)" d="M966 216v2M867 235v1M976 234v2M1089 235v1M1233 235v1M1308 235v1M894 214v1M965 214v2M572 352v1M1078 245v1M978 237v2M1087 237v1M1236 237v1M897 210v1M962 210v1M1167 210v1M887 219v1M967 218v2M1102 219v1M1188 219v1M1327 219v1M805 265v2M1053 266v1M902 205v1M959 204v2M1351 205v1M1393 205v1M972 228v2M1093 229v2M1315 229v1M895 212v2M963 211v2M1112 212v1M1442 212v1M980 240v1M1084 240v1M903 204v1M1392 204v1M878 227v1M971 226v2M1095 227v1M1317 227v1M343 439v1M896 211v1M1168 211v1M1402 211v1M1443 211v1M999 257v1M1064 257v1M988 247v1M1076 247v1M908 198v2M955 198v2M1001 259v1M1062 259v1M918 186v1M911 193v2M951 193v2M979 239v1M1085 239v1M885 221v1M968 220v2M1100 221v1M1191 221v1M981 241v2M1083 241v1M901 206v1M960 206v2M1162 206v1M877 228v1M1094 228v1M1316 228v1M912 192v1M950 192v1M893 215v1M1107 215v1M899 208v1M961 208v2M1397 208v1M904 203v1M958 202v2M1157 203v1M991 250v1M1073 250v1M882 224v1M970 224v2M1097 224v1M1321 224v1M898 209v1M1117 209v1M1166 209v1M1446 209v1M711 300v1M996 254v1M1067 254v1M998 256v1M1065 256v1M872 231v1M973 230v2M1092 231v1M1227 231v1M1313 231v1M1103 218v1M357 431v1M792 279v1M910 195v2M953 196v1M964 213v1M1171 213v1M1337 213v1M811 260v1M1002 260v1M1061 260v1M871 232v1M974 232v1M1091 232v1M1312 232v1M982 243v1M1081 243v1M989 248v1M1075 248v1M997 255v1M1066 255v1M863 238v1M1086 238v1M799 272v1M802 269v1M448 400v1M892 216v1M1106 216v1M1332 216v1M701 306v1M905 202v1M1156 202v1M571 353v1M906 201v1M957 201v1M1003 261v1M886 220v1M1101 220v1M1326 220v1M346 437v1M803 268v1M866 236v1M977 236v1M1088 236v1M868 234v1M1090 233v2M1232 234v1M1082 242v1M1292 242v1M884 222v1M969 222v2M1099 222v1M1192 222v1M1323 222v1M804 267v1M1052 267v1M883 223v1M1098 223v1M1193 223v1M1322 223v1M900 207v1M1163 207v1M1348 207v1M1396 207v1M462 390v1M708 302v1M975 233v1M1311 233v1M987 246v1M1077 246v1M916 188v1M947 188v1M791 280v1M691 314v1M1096 225v2M1318 226v1M487 376v1M698 308v1M676 325v1M568 355v1M992 251v1M1072 251v1M917 187v1M907 200v1M956 200v1M1153 200v1M482 380v1M920 183v2M1314 230v1M881 225v1M1196 225v1M460 392v1M921 182v1M692 313v1M789 282v1M808 262v1M1058 262v1M712 299v1M990 249v1M1074 249v1M796 275v1M919 185v1M451 398v1M806 264v1M1056 264v1M913 191v1M949 191v1M672 328v1M993 252v1M915 189v1M948 189v2M1000 258v1M1063 258v1M952 195v1M782 287v1M807 263v1M1006 263v1M1057 263v1M459 393v1M682 321v1M909 197v1M954 197v1M790 281v1M486 377v1M697 309v1M788 283v1M795 276v1M801 270v1M914 190v1M797 274v1M483 379v1M794 277v1M696 310v1M447 401v1M683 320v1M686 318v1M793 278v1M693 312v1M800 271v1M458 394v1M688 316v1M787 284v1M673 327v1M777 290v1M677 324v1M687 317v1M461 391v1M798 273v1"/></g>
<g stroke="#00ff00" fill="none"><path transform="translate(0 .5)" d="M693 300h2M757 300h3M763 300h2M51 440h2M106 440h2M141 440h3M231 440h13M68 450h2M85 450h4M165 450h15M214 450h2M301 450h3M316 450h2M1338 206h2M1433 206h2M1465 206h2M1002 264h2M1032 264h11M1054 264h2M505 365h2M510 365h5M541 365h2M1098 212h2M1498 212h2M390 419h5M866 230h2M1173 230h2M1175 229h2M834 248h2M1277 248h6M856 231h4M864 231h2M1299 231h2M186 453h3M57 443h2M100 443h2M149 443h2M224 443h2M250 443h10M265 443h5M289 443h2M1245 245h2M1261 245h4M1270 245h3M444 395h2M1216 237h4M491 368h4M439 397h2M1212 239h2M375 422h5M1255 247h4M1275 247h2M1190 217h3M1315 217h2M658 332h2M339 431h2M495 367h8M520 367h19M89 449h2M161 449h4M299 449h2M702 295h3M710 295h3M404 417h2M1115 202h3M1345 202h2M1441 202h2M1459 202h2M1340 205h2M1435 205h2M1463 205h2M698 297h2M70 451h2M80 451h5M180 451h4M304 451h2M314 451h2M982 263h2M991 263h2M32 435h3M115 435h5M125 435h8M334 435h2M869 228h2M507 364h3M53 441h2M104 441h2M144 441h2M229 441h2M244 441h2M275 441h10M1106 208h2M1330 208h5M1468 208h2M810 251h3M830 251h2M503 366h2M515 366h5M539 366h2M565 348h3M889 204h2M1437 204h2M1093 215h2M1319 215h2M1504 215h2M1100 211h2M1481 211h4M1490 211h8M1089 218h2M1187 218h3M1193 218h2M1313 218h2M1136 195h4M1143 195h2M1359 195h2M1369 195h2M750 294h2M91 448h2M159 448h2M297 448h2M319 448h2M720 292h8M742 292h6M197 458h7M59 444h2M98 444h2M151 444h2M222 444h2M260 444h5M291 444h2M324 444h2M191 455h2M35 436h9M112 436h3M133 436h2M1004 265h2M1043 265h2M1015 272h2M1120 200h2M1349 200h2M1379 200h2M1445 200h2M1450 200h8M1006 266h2M1029 266h2M1045 266h2M1050 266h3M1017 273h6M72 452h8M184 452h2M306 452h8M451 392h2M984 262h2M989 262h2M993 262h2M999 262h2M474 375h2M1243 244h2M446 394h3M350 426h4M714 293h2M748 293h2M797 253h8M815 253h2M46 438h3M109 438h2M137 438h2M1086 220h2M760 301h3M1195 219h2M1247 246h8M1259 246h2M1265 246h5M1273 246h2M1284 246h2M876 224h2M1402 224h3M1413 224h2M730 290h2M738 290h2M1095 214h2M1321 214h2M1502 214h2M449 393h2M591 341h4M606 341h4M1104 209h2M1327 209h3M1429 209h2M1470 209h2M1475 209h4M1220 236h5M385 420h5M576 343h13M600 343h4M1415 223h2M851 233h3M1231 233h2M55 442h2M102 442h2M146 442h3M226 442h3M246 442h4M270 442h5M285 442h4M1112 203h3M1343 203h2M1439 203h2M342 429h2M556 353h2M1084 221h2M1309 221h2M356 424h14M821 256h2M805 252h5M813 252h2M828 252h2M1317 216h2M1506 216h2M95 446h2M155 446h2M219 446h2M294 446h2M1082 222h2M64 447h2M93 447h2M157 447h2M690 302h2M1102 210h2M1472 210h3M1479 210h2M1485 210h5M1122 199h3M1149 199h2M1351 199h2M1447 199h3M482 371h3M819 255h2M823 255h2M406 416h3M395 418h9M420 409h2M189 454h2M209 454h2M562 349h3M847 235h2M1225 235h4M1234 235h2M44 437h2M135 437h2M700 296h2M705 296h5M769 296h2M432 400h2M1125 198h5M1353 198h2M1376 198h2M428 402h2M732 289h6M1140 194h3M1361 194h8M610 340h5M1500 213h2M986 261h3M995 261h2M626 337h3M641 337h3M413 413h2M1118 201h2M1347 201h2M1443 201h2M872 226h2M615 339h9M1214 238h2M471 376h3M61 445h2M153 445h2M415 412h2M874 225h2M1405 225h8M849 234h2M1229 234h2M651 333h7M572 345h2M195 457h2M204 457h2M629 336h2M639 336h2M644 336h2M589 342h2M595 342h5M604 342h2M817 254h2M825 254h2M1130 197h4M1355 197h2M1374 197h2M370 423h5M411 414h2M554 354h2M436 398h3M193 456h2M206 456h2M854 232h2M860 232h4M717 291h3M728 291h2M740 291h2M480 372h2M1335 207h3M418 410h2M1134 196h2M1145 196h2M1357 196h2M1371 196h3M467 378h2M668 323h2M631 335h8M646 335h3M344 428h2M624 338h2M1009 268h2M670 322h2M574 344h2M570 346h2M688 303h2M434 399h2M120 434h5M49 439h2M139 439h2M695 299h2M765 299h2M469 377h2M660 331h2M346 427h4M380 421h5M409 415h2M485 370h4M552 355h2M455 390h2M478 373h2M1013 271h2M441 396h3M1047 267h3M430 401h2M489 369h2M559 351h2M453 391h2M904 185h2M568 347h2M354 425h2M649 334h2M476 374h2"/><path transform="translate(.5 0)" d="M329 440v1M887 206v2M946 206v2M1109 206v1M1155 205v2M1385 205v2M789 264v1M884 212v2M949 212v1M1159 212v1M1324 212v1M1390 211v2M1426 212v1M961 229v2M1075 230v1M1171 230v1M1204 230v1M1301 230v1M868 229v1M1076 228v2M1170 229v1M1203 229v1M1302 229v1M971 247v2M1066 247v2M422 408v1M962 231v1M1074 231v1M1172 231v1M1205 231v2M211 453v1M903 186v1M936 185v2M326 443v1M838 245v1M970 244v3M1067 244v3M1286 245v1M845 237v1M966 236v2M1071 236v2M1210 237v1M1237 237v1M1293 237v1M898 193v2M940 193v2M843 239v1M967 238v2M1070 238v2M1239 239v1M1291 239v1M836 247v1M1283 247v1M794 257v1M978 257v2M1061 256v2M881 217v2M953 217v2M1091 217v1M1162 217v1M1395 217v1M1421 217v1M67 449v1M216 449v1M318 449v1M752 295v1M771 295v1M892 202v1M944 201v2M1153 202v2M1382 202v1M910 180v1M933 179v2M888 205v1M945 203v3M1110 205v1M754 297v1M768 297v1M213 451v1M790 262v2M1001 263v1M1056 263v1M960 228v1M1169 228v1M1177 228v1M1202 228v1M1303 228v1M543 364v1M328 441v1M840 242v2M969 242v2M1068 242v2M1242 243v1M1288 243v1M886 208v2M947 208v2M1156 207v2M1387 208v1M1431 208v1M973 251v1M1064 251v2M1111 204v1M1154 204v1M1342 204v1M1384 204v1M1462 204v1M883 214v2M951 214v2M1161 215v2M1393 215v1M1423 215v1M885 210v2M948 210v2M1158 210v2M1325 211v1M1427 211v1M1163 218v2M1396 218v1M1420 218v2M897 195v1M941 195v2M917 173v1M927 173v1M713 294v1M772 294v1M793 258v1M1060 258v1M66 448v1M217 448v1M716 292v1M773 292v2M832 250v1M972 249v2M1065 249v2M208 455v1M333 436v1M788 265v2M1031 265v1M1053 265v1M784 272v1M1023 272v1M893 200v2M943 199v2M1151 200v1M783 273v2M871 227v1M959 227v1M1077 227v1M1168 227v1M1178 227v1M1201 226v2M1304 227v1M212 452v1M547 360v1M981 261v2M1057 262v1M839 244v1M1287 244v1M827 253v1M975 253v2M1063 253v2M780 279v2M792 259v1M979 259v1M1059 259v1M331 438v1M880 219v2M955 220v2M1164 220v2M1185 220v1M1197 220v1M1311 220v1M1398 220v1M1419 220v1M692 301v1M954 219v1M1088 219v1M1186 219v1M1312 219v1M1397 219v1M837 246v1M957 224v1M1080 224v1M1166 224v2M1181 224v1M1200 224v2M1306 224v1M774 290v2M1160 213v2M1392 214v1M1424 214v1M921 169v1M923 169v1M1157 209v1M1388 209v1M846 236v1M1209 236v1M1236 236v1M1294 236v1M878 222v2M956 222v2M1081 223v1M1165 222v2M1182 223v1M1199 223v1M1307 223v1M1401 223v1M963 232v2M1073 232v2M1206 233v1M1297 233v1M327 442v1M891 203v1M1383 203v1M1461 203v1M901 188v2M938 189v2M779 281v2M842 240v1M968 240v2M1069 240v2M1240 240v2M1290 240v2M841 241v1M775 288v2M879 221v1M1184 221v1M1198 221v2M1399 221v1M1418 221v1M795 255v2M977 256v1M974 252v1M882 216v1M952 216v1M1092 216v1M1394 216v1M1422 216v1M63 446v1M322 446v1M1183 222v1M1308 222v1M1400 222v1M1417 222v1M218 447v1M296 447v1M321 447v1M464 381v1M786 268v2M1011 269v1M1026 269v1M1326 210v1M1389 210v1M1428 210v1M894 199v1M1378 199v1M976 255v1M1062 255v1M1241 242v1M1289 242v1M918 172v1M926 172v1M965 235v1M1072 234v2M1208 235v1M1295 235v1M111 437v1M332 437v1M753 296v1M895 198v1M942 197v2M1148 198v1M909 181v1M934 181v2M548 359v1M950 213v1M1097 213v1M1323 213v1M1391 213v1M1425 213v1M791 260v2M998 261v1M1058 260v2M685 306v1M665 326v2M1152 201v1M1381 201v1M1458 201v1M677 315v1M958 225v2M1078 226v1M1167 226v1M1179 226v1M1305 225v2M844 238v1M1211 238v1M1238 238v1M1292 238v1M97 445v1M221 445v1M293 445v1M323 445v1M916 174v1M928 174v1M1079 225v1M1180 225v1M964 234v1M1207 234v1M1233 234v1M1296 234v1M465 380v1M457 389v1M664 328v1M785 270v2M1012 270v1M1025 270v1M915 175v1M929 175v1M796 254v1M896 196v2M1147 197v1M922 168v1M678 314v1M980 260v1M997 260v1M1298 232v1M920 170v1M924 170v1M900 190v2M939 191v2M338 432v1M1108 207v1M1386 207v1M1432 207v1M1467 207v1M914 176v1M930 176v1M697 298v1M755 298v1M767 298v1M913 177v1M931 177v1M561 350v1M461 384v1M426 404v1M663 329v1M1027 268v1M911 179v1M782 275v2M682 309v1M551 356v1M781 277v2M463 382v1M777 285v1M458 388v1M336 434v1M108 439v1M330 439v1M776 286v2M908 182v1M756 299v1M427 403v1M676 316v1M833 249v1M545 362v1M667 324v1M675 317v2M778 283v2M937 187v2M899 192v1M462 383v1M1024 271v1M906 184v1M935 183v2M912 178v1M932 178v1M787 267v1M1008 267v1M1028 267v1M907 183v1M919 171v1M925 171v1M683 308v1M680 311v2M544 363v1M687 304v1M337 433v1M674 319v1M417 411v1M662 330v1M546 361v1M550 357v1M686 305v1M460 385v2M558 352v1M459 387v1M424 406v1M666 325v1M681 310v1M549 358v1M672 321v1M902 187v1M341 430v1M466 379v1M423 407v1M673 320v1M684 307v1M679 313v1M425 405v1"/></g>
<path d="M12.5 555.5V556M22.5 555.5V555M97.5 555.5V554M102.5 555.5V553M107.5 555.5V552M112.5 555.5V551M117.5 555.5V552M122.5 555.5V552M127.5 555.5V553M132.5 555.5V553M137.5 555.5V554M142.5 555.5V555M212.5 555.5V554M217.5 555.5V553M222.5 555.5V552M227.5 555.5V552M232.5 555.5V552M237.5 555.5V552M242.5 555.5V553M247.5 555.5V553M252.5 555.5V554M257.5 555.5V554M262.5 555.5V554M267.5 555.5V554M272.5 555.5V554M277.5 555.5V554M282.5 555.5V555M322.5 555.5V554M327.5 555.5V553M332.5 555.5V552M337.5 555.5V551M342.5 555.5V551M347.5 555.5V550M352.5 555.5V551M357.5 555.5V551M362.5 555.5V552M367.5 555.5V552M372.5 555.5V553M377.5 555.5V553M382.5 555.5V553M387.5 555.5V553M392.5 555.5V554M397.5 555.5V554M402.5 555.5V555M407.5 555.5V554M412.5 555.5V554M417.5 555.5V553M422.5 555.5V553M427.5 555.5V552M432.5 555.5V552M437.5 555.5V553M442.5 555.5V553M447.5 555.5V553M452.5 555.5V552M457.5 555.5V552M462.5 555.5V550M467.5 555.5V551M472.5 555.5V551M477.5 555.5V552M482.5 555.5V552M487.5 555.5V552M492.5 555.5V552M497.5 555.5V554M507.5 555.5V555M557.5 555.5V555M562.5 555.5V554M567.5 555.5V555M572.5 555.5V554M577.5 555.5V554M667.5 555.5V555M672.5 555.5V554M677.5 555.5V552M682.5 555.5V551M687.5 555.5V550M692.5 555.5V551M697.5 555.5V551M702.5 555.5V551M707.5 555.5V553M712.5 555.5V553M717.5 555.5V553M722.5 555.5V555M727.5 555.5V555M732.5 555.5V555M777.5 555.5V554M782.5 555.5V552M787.5 555.5V551M792.5 555.5V549M797.5 555.5V549M802.5 555.5V550M807.5 555.5V552M812.5 555.5V553M817.5 555.5V555M822.5 555.5V555M827.5 555.5V555M832.5 555.5V555M837.5 555.5V554M842.5 555.5V553M847.5 555.5V553M852.5 555.5V554M857.5 555.5V555M867.5 555.5V555M872.5 555.5V554M877.5 555.5V554M882.5 555.5V552M887.5 555.5V551M892.5 555.5V550M897.5 555.5V549M902.5 555.5V549M907.5 555.5V549M912.5 555.5V549M917.5 555.5V550M922.5 555.5V549M1037.5 555.5V555M1042.5 555.5V555M1047.5 555.5V555M1052.5 555.5V553M1057.5 555.5V550M1062.5 555.5V547M1067.5 555.5V544M1072.5 555.5V543M1077.5 555.5V542M1082.5 555.5V542M1087.5 555.5V543M1092.5 555.5V542M1097.5 555.5V543M1102.5 555.5V544M1107.5 555.5V545M1112.5 555.5V546M1117.5 555.5V547M1122.5 555.5V547M1127.5 555.5V549M1132.5 555.5V550M1137.5 555.5V551M1142.5 555.5V552M1147.5 555.5V554M1287.5 555.5V553M1292.5 555.5V551M1297.5 555.5V549M1302.5 555.5V550M1307.5 555.5V548M1312.5 555.5V547M1317.5 555.5V546M1322.5 555.5V547M1327.5 555.5V547M1332.5 555.5V549M1337.5 555.5V549M1342.5 555.5V548M1347.5 555.5V548M1352.5 555.5V549M1357.5 555.5V550M1362.5 555.5V550M1367.5 555.5V551M1372.5 555.5V554M1432.5 555.5V555M1437.5 555.5V554M1442.5 555.5V553M1447.5 555.5V552M1452.5 555.5V554M1457.5 555.5V554" stroke="#ff1038" stroke-width="1" fill="none"/>
<path d="M17.5 555.5V557M27.5 555.5V557M32.5 555.5V557M37.5 555.5V557M42.5 555.5V557M47.5 555.5V558M52.5 555.5V559M57.5 555.5V560M62.5 555.5V560M67.5 555.5V560M72.5 555.5V561M77.5 555.5V559M82.5 555.5V558M87.5 555.5V558M92.5 555.5V557M147.5 555.5V557M152.5 555.5V558M157.5 555.5V559M162.5 555.5V559M167.5 555.5V558M172.5 555.5V558M177.5 555.5V558M182.5 555.5V559M187.5 555.5V559M192.5 555.5V560M197.5 555.5V559M202.5 555.5V558M207.5 555.5V557M287.5 555.5V557M292.5 555.5V557M297.5 555.5V559M302.5 555.5V559M307.5 555.5V559M312.5 555.5V558M317.5 555.5V557M502.5 555.5V557M512.5 555.5V557M517.5 555.5V558M522.5 555.5V560M527.5 555.5V560M532.5 555.5V559M537.5 555.5V559M542.5 555.5V559M547.5 555.5V557M552.5 555.5V557M582.5 555.5V557M587.5 555.5V557M592.5 555.5V557M597.5 555.5V557M602.5 555.5V559M607.5 555.5V558M612.5 555.5V558M617.5 555.5V558M622.5 555.5V558M627.5 555.5V559M632.5 555.5V557M637.5 555.5V558M642.5 555.5V560M647.5 555.5V559M652.5 555.5V558M657.5 555.5V557M662.5 555.5V557M737.5 555.5V557M742.5 555.5V559M747.5 555.5V560M752.5 555.5V562M757.5 555.5V564M762.5 555.5V562M767.5 555.5V560M772.5 555.5V558M862.5 555.5V557M927.5 555.5V557M932.5 555.5V561M937.5 555.5V566M942.5 555.5V568M947.5 555.5V569M952.5 555.5V573M957.5 555.5V574M962.5 555.5V577M967.5 555.5V576M972.5 555.5V578M977.5 555.5V578M982.5 555.5V578M987.5 555.5V573M992.5 555.5V570M997.5 555.5V567M1002.5 555.5V570M1007.5 555.5V569M1012.5 555.5V566M1017.5 555.5V564M1022.5 555.5V560M1027.5 555.5V559M1032.5 555.5V557M1152.5 555.5V559M1157.5 555.5V564M1162.5 555.5V566M1167.5 555.5V567M1172.5 555.5V566M1177.5 555.5V563M1182.5 555.5V562M1187.5 555.5V560M1192.5 555.5V562M1197.5 555.5V564M1202.5 555.5V565M1207.5 555.5V565M1212.5 555.5V564M1217.5 555.5V561M1222.5 555.5V561M1227.5 555.5V561M1232.5 555.5V560M1237.5 555.5V561M1242.5 555.5V562M1247.5 555.5V562M1252.5 555.5V560M1257.5 555.5V559M1262.5 555.5V558M1267.5 555.5V559M1272.5 555.5V558M1277.5 555.5V558M1282.5 555.5V557M1377.5 555.5V557M1382.5 555.5V559M1387.5 555.5V561M1392.5 555.5V563M1397.5 555.5V565M1402.5 555.5V565M1407.5 555.5V564M1412.5 555.5V563M1417.5 555.5V560M1422.5 555.5V558M1427.5 555.5V557M1462.5 555.5V558M1467.5 555.5V558M1472.5 555.5V558M1477.5 555.5V558M1482.5 555.5V558M1487.5 555.5V559M1492.5 555.5V559M1497.5 555.5V559M1502.5 555.5V559M1507.5 555.5V560" stroke="#1818ff" stroke-width="1" fill="none"/>
<g stroke="#f05800" fill="none"><path transform="translate(0 .5)" d="M465 533h5M545 533h10M600 533h15M686 533h4M756 533h4M785 533h4M1135 533h5M1150 533h4M425 540h5M1115 540h2M1167 540h2M1360 540h5M1385 540h4M996 564h2M1075 564h2M1250 564h5M1294 564h2M85 562h10M200 562h15M992 562h2M1240 562h5M1300 562h4M345 551h5M1095 551h2M1201 551h3M1326 551h4M1415 551h25M1485 551h5M265 554h35M330 554h5M1090 554h2M1209 554h2M1319 554h2M1505 554h3M420 541h5M1113 541h2M1169 541h2M1355 541h5M1389 541h2M921 510h9M460 534h5M615 534h10M684 534h2M760 534h5M780 534h5M1131 534h4M1154 534h2M470 532h5M535 532h10M555 532h45M690 532h5M754 532h2M789 532h2M1140 532h10M385 544h15M1107 544h2M1176 544h4M1346 544h3M1396 544h3M60 558h5M115 558h5M165 558h15M230 558h5M1083 558h2M1225 558h5M1311 558h2M75 561h10M95 561h10M190 561h10M215 561h5M1079 561h2M1236 561h4M1304 561h2M911 513h4M935 513h2M12 555h23M250 555h15M300 555h5M325 555h5M1088 555h2M1211 555h4M1317 555h2M35 556h15M130 556h25M240 556h10M305 556h20M984 556h2M1215 556h5M1315 556h2M455 535h5M625 535h15M680 535h4M765 535h15M1129 535h2M1156 535h3M65 559h5M110 559h5M180 559h5M225 559h5M1230 559h4M1309 559h2M70 560h5M105 560h5M185 560h5M220 560h5M989 560h2M1234 560h2M1306 560h3M480 530h5M520 530h10M700 530h10M745 530h5M794 530h2M340 552h5M1093 552h2M1204 552h2M1324 552h2M1490 552h10M410 542h10M1111 542h2M1171 542h3M1351 542h4M1391 542h3M1020 576h5M1035 576h19M475 531h5M530 531h5M695 531h5M750 531h4M791 531h3M355 549h5M1098 549h2M1196 549h3M1334 549h2M1409 549h2M1445 549h25M365 547h5M1190 547h4M1339 547h2M1404 547h2M1073 565h2M1255 565h10M1290 565h4M370 546h5M1103 546h2M1185 546h5M1341 546h3M1401 546h3M450 536h5M640 536h5M675 536h5M1125 536h4M1159 536h2M445 537h5M645 537h30M1121 537h4M1161 537h2M495 528h20M715 528h25M800 528h5M870 523h10M815 526h25M954 526h2M485 529h10M515 529h5M710 529h5M740 529h5M796 529h4M350 550h5M1199 550h2M1330 550h4M1411 550h4M1440 550h5M1470 550h15M896 518h4M943 518h2M400 543h10M1109 543h2M1174 543h2M1349 543h2M1394 543h2M430 539h10M1117 539h2M1165 539h2M1365 539h5M1380 539h5M845 524h25M50 557h10M120 557h10M155 557h10M235 557h5M1085 557h2M1220 557h5M1313 557h2M1025 577h10M805 527h10M1007 571h2M1063 571h2M375 545h10M1105 545h2M1180 545h5M1344 545h2M1399 545h2M1005 570h2M1065 570h2M999 566h2M1265 566h10M1285 566h5M994 563h2M1245 563h5M1296 563h4M360 548h5M1100 548h2M1194 548h2M1336 548h3M1406 548h3M885 521h5M1070 567h2M1275 567h10M880 522h5M949 522h2M440 538h5M1119 538h2M1163 538h2M1370 538h10M1016 575h4M1054 575h2M909 514h2M900 517h4M335 553h5M1206 553h3M1321 553h3M1500 553h5M919 511h2M930 511h3M1009 572h2M1061 572h2M840 525h5M1011 573h3M1059 573h2M1014 574h2M1056 574h3M890 520h4M915 512h4M933 512h2M906 515h3M938 515h2M1003 569h2M904 516h2M940 516h2M1068 568h2M894 519h2M945 519h2"/><path transform="translate(.5 0)" d="M962 533v1M969 540v1M1078 562v1M979 551v1M982 554v1M970 541v2M963 534v1M961 532v1M972 544v1M987 558v1M991 561v1M983 555v1M1087 556v1M964 535v1M988 559v1M1082 559v1M1081 560v1M959 530v1M980 552v1M960 531v1M977 549v1M975 547v1M1102 547v1M998 565v1M974 546v1M965 536v1M966 537v1M957 528v1M951 523v1M958 529v1M978 550v1M1097 550v1M971 543v1M968 539v1M952 524v1M986 557v1M956 527v1M973 545v1M1072 566v1M1077 563v1M976 548v1M948 521v1M1001 567v1M967 538v1M937 514v1M942 517v1M981 553v1M1092 553v1M953 525v1M947 520v1M1067 569v1M1002 568v1"/></g>
<g stroke="#008c30" fill="none"><path transform="translate(0 .5)" d="M55 560h4M96 560h3M160 560h20M211 560h3M1203 560h2M115 554h20M230 554h5M245 554h20M285 554h5M321 554h4M1194 554h2M1305 554h2M1400 554h2M1416 554h4M1490 554h5M465 528h15M500 528h10M686 528h9M730 528h5M786 528h2M430 535h5M440 535h5M540 535h4M601 535h19M670 535h3M750 535h2M774 535h2M1101 535h3M1360 535h9M405 541h10M1090 541h2M1336 541h2M1380 541h2M12 555h18M111 555h4M135 555h10M225 555h5M290 555h4M319 555h2M1069 555h2M1303 555h2M1402 555h3M1414 555h2M1495 555h9M30 556h10M109 556h2M145 556h4M221 556h4M294 556h2M316 556h3M964 556h2M1300 556h3M1405 556h9M1504 556h2M1051 574h2M424 537h2M625 537h5M635 537h4M664 537h2M771 537h2M1097 537h2M1345 537h5M1371 537h3M458 531h2M518 531h2M560 531h5M570 531h5M579 531h2M679 531h2M741 531h3M780 531h2M1115 531h4M1146 531h2M235 553h10M265 553h5M275 553h10M325 553h4M1398 553h2M1420 553h5M1485 553h5M380 542h25M1088 542h2M1334 542h2M426 536h4M435 536h5M620 536h5M630 536h5M666 536h4M1099 536h2M1350 536h10M1369 536h2M49 558h2M101 558h4M151 558h4M216 558h3M300 558h14M1200 558h2M1295 558h2M794 524h2M805 524h9M836 524h3M859 524h2M864 524h2M40 557h9M105 557h4M149 557h2M219 557h2M296 557h4M314 557h2M1198 557h2M1297 557h3M1506 557h2M334 550h2M1176 550h9M1188 550h2M1394 550h2M1431 550h4M1462 550h3M880 520h2M445 534h5M525 534h15M544 534h2M599 534h2M673 534h2M748 534h2M1104 534h2M462 529h3M510 529h5M684 529h2M735 529h4M784 529h2M1121 529h23M485 526h10M700 526h5M715 526h5M790 526h2M816 526h9M830 526h4M841 522h14M870 522h8M915 506h4M341 547h3M1315 547h2M1390 547h2M1441 547h4M1450 547h8M1241 567h3M1255 567h10M1280 567h3M65 563h5M80 563h10M186 563h4M204 563h2M1225 563h9M344 546h2M1317 546h3M1388 546h2M1445 546h5M365 543h15M1086 543h2M1326 543h8M1383 543h2M331 551h3M1075 551h2M1167 551h3M1174 551h2M1190 551h2M1309 551h2M1429 551h2M1465 551h5M1475 551h5M450 533h5M522 533h3M546 533h9M590 533h9M675 533h2M746 533h2M1106 533h4M1149 533h2M59 561h2M94 561h2M180 561h4M209 561h2M1205 561h2M1215 561h5M1290 561h2M61 562h4M90 562h4M184 562h2M206 562h3M1207 562h8M1220 562h5M1288 562h2M270 552h5M329 552h2M1073 552h2M1170 552h4M1425 552h4M1470 552h5M1480 552h5M346 545h9M1082 545h2M1320 545h4M901 510h4M792 525h2M814 525h2M825 525h5M834 525h2M861 525h3M899 511h2M415 540h4M757 540h8M1338 540h2M1378 540h2M480 527h5M495 527h5M695 527h5M705 527h10M720 527h10M788 527h2M1244 568h2M1250 568h5M1265 568h15M421 538h3M639 538h2M650 538h14M754 538h2M769 538h2M1095 538h2M1342 538h3M1374 538h2M70 564h10M190 564h14M1234 564h2M905 509h4M336 549h3M1185 549h3M1435 549h4M1460 549h2M460 530h2M515 530h3M575 530h4M681 530h3M739 530h2M782 530h2M944 530h2M1119 530h2M1144 530h2M895 513h2M355 544h10M1084 544h2M1159 544h2M1324 544h2M1385 544h2M51 559h4M99 559h2M155 559h5M214 559h2M1293 559h2M455 532h3M520 532h2M555 532h5M565 532h5M581 532h9M677 532h2M744 532h2M778 532h2M1110 532h5M1239 566h2M897 512h2M887 516h3M883 518h2M1035 576h14M982 575h16M1049 575h2M1236 565h3M1284 565h2M1025 579h4M1004 582h2M1010 582h9M419 539h2M641 539h9M765 539h4M1093 539h2M1340 539h2M1376 539h2M339 548h2M1313 548h2M1439 548h2M1458 548h2M796 523h9M839 523h2M855 523h4M866 523h4M885 517h2M893 514h2M1006 583h4M911 507h4M1031 577h4M979 573h2M1246 569h4M878 521h2M890 515h3M1021 580h4M1002 581h2M1019 581h2M919 505h2M1029 578h2M921 504h2M909 508h2"/><path transform="translate(.5 0)" d="M968 559v2M1065 559v2M1292 560v1M962 554v1M1071 554v1M942 528v1M949 535v1M1152 535v1M953 541v1M1156 540v2M963 555v1M1196 555v1M1068 556v1M1197 556v1M981 574v1M753 537v1M950 536v2M1153 536v2M946 531v1M961 552v2M1072 553v1M1193 553v1M1307 553v1M954 542v1M1157 542v1M1382 542v1M752 536v1M773 536v1M967 558v1M1066 558v1M938 524v1M966 557v1M1067 557v1M960 550v2M1077 550v1M1166 550v1M1311 550v1M935 520v1M776 534v1M948 533v2M1151 534v1M943 529v1M940 526v1M936 521v2M923 505v2M958 547v2M1080 547v1M1163 547v1M974 567v1M1059 567v1M971 563v2M1062 563v1M1287 563v1M957 546v1M1081 546v1M1162 546v1M955 543v2M1158 543v1M1396 551v1M777 533v1M969 561v1M1064 561v1M970 562v1M1063 562v1M1192 552v1M1308 552v1M1397 552v1M956 545v1M1161 545v1M1387 545v1M926 509v2M939 525v1M927 511v1M952 540v1M1092 540v1M941 527v1M975 568v2M1058 568v1M951 538v2M1154 538v1M1061 564v1M1286 564v1M959 549v1M1078 549v1M1165 549v1M1312 549v1M1393 549v1M929 513v1M1202 559v1M947 532v1M1148 532v1M973 566v1M1060 565v2M1283 566v1M928 512v1M932 516v1M933 517v2M998 576v1M972 565v1M1000 578v2M756 539v1M1155 539v1M1079 548v1M1164 548v1M1392 548v1M937 523v1M930 514v1M924 507v1M999 577v1M1053 573v1M1057 569v1M976 570v1M1056 570v1M931 515v1M978 572v1M1054 572v1M1001 580v1M882 519v1M934 519v1M925 508v1M977 571v1M1055 571v1"/></g>
<path d="M11 555.5H1507" stroke="#ff00ff" stroke-width="1"/>
<g stroke="#008c30" fill="none"><path transform="translate(0 .5)" d="M163 663h2M1214 663h2M1390 663h2M1504 663h2M110 650h2M114 650h2M214 650h2M244 650h2M523 650h2M622 650h6M766 650h7M861 650h2M1052 650h2M89 665h2M288 665h2M1158 665h2M1252 665h2M1403 665h2M265 632h3M680 632h2M684 632h2M689 632h2M872 632h2M880 632h2M1075 632h2M1101 632h2M1127 632h2M131 643h2M224 643h2M228 643h2M236 643h2M332 643h7M545 643h2M549 643h2M565 643h3M611 643h2M1470 643h2M1475 643h3M725 637h2M730 637h3M1324 637h2M1330 637h3M1368 637h2M359 630h2M399 630h2M404 630h2M410 630h5M439 630h2M476 630h3M695 630h5M835 630h5M1097 630h2M937 655h3M1042 655h6M1229 655h2M175 668h3M1010 668h5M1164 668h2M1192 668h11M1408 668h2M259 634h2M675 634h3M876 634h2M1084 634h2M1131 634h3M1311 634h4M1361 634h3M1231 656h3M447 626h6M469 626h2M712 626h2M890 626h2M914 626h2M1340 626h4M1351 626h2M361 629h2M397 629h2M406 629h4M415 629h3M441 629h2M474 629h2M479 629h2M906 629h4M754 660h2M1024 660h2M1219 660h2M1262 660h6M1281 660h2M1424 660h2M1430 660h2M1499 660h2M756 661h2M1217 661h2M1385 661h3M1432 661h6M139 646h2M540 646h2M579 646h2M659 646h2M1064 646h2M1294 646h2M1442 646h8M1455 646h3M443 628h2M472 628h2M481 628h4M490 628h3M716 628h2M904 628h2M910 628h3M499 640h2M588 640h2M802 640h6M727 636h3M1136 636h7M1307 636h2M1326 636h4M1357 636h2M1366 636h2M261 633h4M678 633h2M686 633h3M704 633h2M874 633h2M878 633h2M1077 633h7M1129 633h2M1315 633h3M165 662h2M1382 662h3M1388 662h2M1417 662h6M1502 662h2M920 623h3M1110 623h2M973 675h2M888 625h2M1344 625h2M1349 625h2M752 659h2M1022 659h2M1183 659h2M1221 659h2M1268 659h2M1279 659h2M1428 659h2M1487 659h8M357 631h2M389 631h2M394 631h2M401 631h3M437 631h2M682 631h2M691 631h4M700 631h3M792 631h2M832 631h3M840 631h3M1072 631h3M1099 631h2M257 635h2M672 635h3M1086 635h7M1134 635h2M1309 635h2M1359 635h2M1364 635h2M592 638h3M722 638h3M777 638h2M850 638h3M1322 638h2M1370 638h2M82 666h3M290 666h2M1160 666h2M1254 666h2M1394 666h2M1399 666h2M1405 666h2M445 627h2M485 627h5M714 627h2M892 627h12M1337 627h3M527 648h3M535 648h3M602 648h2M619 648h2M630 648h2M185 678h2M978 678h2M300 670h8M1205 670h2M1185 658h3M1236 658h2M1270 658h2M1275 658h4M1284 658h2M1495 658h3M122 644h3M129 644h2M226 644h2M543 644h2M551 644h4M560 644h5M613 644h2M930 644h3M1472 644h3M590 639h2M595 639h3M779 639h2M847 639h3M222 642h2M230 642h2M234 642h2M339 642h2M547 642h2M609 642h2M664 642h2M785 642h3M1467 642h3M137 647h2M538 647h2M581 647h2M632 647h6M1062 647h2M1292 647h2M1450 647h5M294 669h2M959 669h2M1007 669h3M1015 669h3M1166 669h2M1203 669h2M1410 669h2M944 653h2M454 624h2M917 624h3M1108 624h2M1346 624h3M297 671h3M962 671h6M968 672h2M85 667h3M172 667h3M952 667h6M1162 667h2M367 620h16M459 620h2M1115 620h2M1120 620h3M102 651h3M108 651h2M116 651h2M764 651h2M1054 651h2M1301 651h2M1461 651h2M989 674h2M940 654h4M1227 654h2M232 641h2M341 641h2M351 641h2M497 641h2M607 641h2M782 641h3M149 657h2M154 657h2M1234 657h2M1272 657h3M1117 619h3M112 649h2M525 649h2M530 649h5M628 649h2M105 652h3M762 652h2M946 652h2M1056 652h2M125 645h4M134 645h2M141 645h2M555 645h5M577 645h2M615 645h2M927 645h3M1066 645h2M1296 645h2M1506 664h2M970 673h2M1247 673h2M975 676h2M424 614h2M182 679h3M980 679h2M1113 621h2M426 613h2M422 615h2"/><path transform="translate(.5 0)" d="M92 663v1M161 662v2M169 663v1M205 662v3M286 662v2M310 662v3M951 663v3M1020 662v2M1156 663v1M1172 663v1M1190 663v2M1242 663v2M1260 663v2M1416 663v2M118 649v2M145 650v2M241 650v2M278 649v2M316 650v2M521 649v2M638 649v2M647 649v2M745 650v2M935 649v3M1059 650v1M1149 648v3M1290 650v2M1301 650v1M1303 648v3M1378 649v3M1441 648v3M1460 649v2M1463 649v2M1481 649v2M170 664v2M204 665v2M309 665v2M1019 664v2M1170 665v2M1191 665v2M1212 665v1M1243 665v2M1259 665v1M1393 665v1M1401 665v1M1415 665v2M357 632v1M391 632v1M393 632v1M493 630v3M505 632v2M509 632v1M703 632v1M709 631v2M719 632v2M791 632v2M794 632v1M821 632v2M843 632v2M924 630v5M1071 632v3M1095 632v1M1335 631v2M1355 631v2M221 643v1M251 642v2M275 643v2M321 643v2M323 643v1M518 643v2M576 643v2M585 643v2M599 642v2M606 642v2M652 643v1M663 643v1M738 643v1M775 641v3M857 643v1M865 643v3M926 640v4M932 643v1M1068 641v3M1147 642v2M1305 641v4M1375 643v2M1466 643v2M255 637v2M272 637v2M345 637v2M348 636v2M354 637v2M495 635v3M503 636v2M512 637v1M572 637v1M670 637v1M721 636v2M777 637v1M789 637v2M799 637v1M809 637v1M815 636v2M818 637v2M846 637v2M868 637v2M925 635v5M1070 635v3M1143 637v1M1307 637v1M1321 637v1M388 630v1M396 630v1M436 629v2M506 630v2M508 630v2M710 629v2M718 630v2M792 630v1M823 630v1M831 630v1M883 629v2M1072 630v1M1103 630v2M1126 629v2M1336 629v2M1354 629v2M99 655v1M147 654v2M157 655v1M210 654v2M281 654v2M314 654v2M640 654v3M644 655v2M749 655v1M760 655v2M948 654v3M1031 655v2M1033 655v1M1151 654v4M1177 655v1M1226 655v1M1288 654v2M1380 655v3M1439 654v3M1485 655v2M203 667v2M293 668v1M308 667v2M958 668v1M997 668v1M1017 668v1M1168 668v1M1210 667v2M1244 667v2M1250 668v2M1257 668v1M1397 668v1M1413 668v2M269 634v1M356 633v2M494 633v2M504 634v2M510 633v2M706 634v1M708 633v2M720 634v2M790 634v3M796 634v1M811 634v2M813 634v1M820 634v2M844 634v1M871 633v2M1093 634v1M1318 634v1M1334 633v2M1356 633v2M98 656v2M148 656v1M156 656v1M158 656v2M209 656v1M282 656v1M313 656v2M750 656v2M1034 656v1M1041 656v1M1176 656v2M1178 656v1M1225 656v1M1287 656v1M364 625v2M385 625v2M418 625v3M434 625v2M826 626v1M828 626v1M886 625v2M923 626v4M1106 626v2M1125 626v3M387 629v1M492 629v1M507 629v1M717 629v1M824 629v1M830 628v2M1104 629v1M95 660v1M160 660v2M206 660v2M285 660v2M311 660v2M642 659v2M758 659v2M950 660v3M1021 660v2M1028 660v2M1037 660v1M1153 660v1M1174 660v1M1182 660v1M1188 659v2M1239 660v1M1381 658v3M1437 660v1M94 661v1M167 661v1M1026 661v1M1154 661v1M1173 661v2M1189 661v2M1240 661v1M1261 661v2M1382 661v1M1423 661v1M1501 661v1M121 645v2M136 646v1M143 646v2M219 646v1M239 646v2M248 646v2M276 645v2M319 646v1M325 645v2M329 646v1M519 645v2M583 646v1M601 646v2M604 646v1M617 646v1M650 645v2M655 646v1M741 646v1M774 644v3M859 646v1M864 646v2M927 644v1M927 646v1M933 645v2M1148 644v4M1298 646v2M1304 645v3M1376 645v2M1465 645v2M1479 646v1M363 627v2M386 627v2M417 628v1M435 627v2M711 627v2M825 627v2M884 628v1M1105 628v1M1337 628v1M1353 627v2M253 640v1M273 639v2M343 640v1M351 640v1M353 639v2M496 638v3M515 640v1M570 639v2M574 640v1M598 640v2M667 640v1M735 640v1M776 639v2M781 640v1M788 639v2M854 640v1M867 639v2M1069 638v3M1145 639v2M1306 638v3M1373 640v2M256 636v1M271 636v1M346 636v1M355 635v2M511 635v2M671 636v1M798 636v1M810 636v1M819 636v1M845 635v2M869 636v1M1320 636v1M1333 635v2M268 633v1M392 633v1M795 633v1M812 633v1M1094 633v1M93 662v1M168 662v1M1027 662v1M1155 662v1M1216 662v1M1241 662v1M365 623v2M384 623v2M419 623v2M433 623v2M456 623v1M466 623v1M1123 622v2M180 674v3M197 675v1M985 675v2M991 675v1M993 674v2M1001 674v2M1003 674v2M453 625v1M468 625v1M827 625v1M916 625v1M922 624v2M1107 625v1M1124 624v2M96 659v1M152 659v1M159 658v2M207 658v2M284 659v1M312 658v2M949 657v3M1029 659v1M1036 659v1M1038 659v1M1152 658v2M1175 658v2M1181 659v1M1238 659v1M1283 659v1M1426 659v1M1438 657v3M1498 659v1M822 631v1M882 631v1M1096 631v1M1127 631v1M192 682v1M270 635v1M347 635v1M707 635v1M797 635v1M814 635v1M870 635v1M1319 635v1M1357 635v1M349 638v1M502 638v1M513 638v1M571 638v1M573 638v2M669 638v1M733 638v1M800 638v1M808 638v2M816 638v1M1144 638v1M88 666v1M171 666v1M952 666v1M1018 666v2M1211 666v1M1251 666v2M1258 666v2M471 627v1M829 627v1M885 627v1M913 627v1M119 648v1M144 648v2M217 648v1M240 648v2M247 648v1M277 647v2M318 647v2M327 648v1M520 647v2M637 648v1M648 648v1M657 648v1M743 648v1M773 647v2M860 647v2M863 648v2M934 647v2M1061 648v1M1291 648v2M1299 648v1M1377 647v2M1459 648v1M1464 647v2M1480 647v2M181 677v2M188 678v1M195 678v1M983 678v2M178 670v2M202 669v2M296 670v1M961 670v1M996 669v2M998 669v2M1006 670v2M1208 670v1M1245 669v2M1249 670v2M1412 670v1M97 658v1M151 658v1M153 658v1M283 657v2M641 657v2M643 657v2M751 658v1M759 657v2M1022 658v1M1030 657v2M1035 657v2M1039 658v1M1180 658v1M1223 658v1M1427 658v1M1486 657v2M133 644v1M220 644v2M238 644v2M250 644v1M324 644v1M331 644v1M600 644v2M605 644v2M651 644v1M653 644v1M662 644v1M739 644v1M858 644v2M1067 644v1M1478 644v2M254 639v1M344 639v1M350 639v1M501 639v1M514 639v1M668 639v1M722 639v1M734 639v1M801 639v1M817 639v1M853 639v1M1372 639v1M274 641v2M322 642v1M352 642v1M497 642v1M517 642v1M568 642v1M575 641v2M586 642v1M737 642v1M856 642v1M866 641v2M1374 642v1M120 647v1M218 647v1M326 647v1M328 647v1M603 647v1M618 647v1M649 647v1M656 647v1M658 647v1M742 647v1M1442 647v1M1458 647v1M177 669v1M307 669v1M1209 669v1M101 652v2M146 652v2M211 653v1M280 652v2M315 652v2M639 651v3M645 653v2M747 653v1M761 653v2M936 652v2M947 653v1M1049 653v1M1150 651v3M1289 652v2M1379 652v3M1440 651v3M1483 652v2M467 624v1M887 624v1M201 671v1M995 671v2M999 671v1M1207 671v1M1246 671v2M179 672v2M200 672v1M987 672v1M1000 672v2M1005 672v1M1248 672v1M292 667v1M1169 667v1M1192 667v1M1256 667v1M1396 667v1M1398 667v1M1407 667v1M1414 667v1M420 620v3M431 620v2M464 620v1M213 651v1M243 651v1M279 651v1M522 651v1M646 651v2M862 651v1M1051 651v1M1058 651v1M1482 651v1M198 674v1M972 674v1M986 673v2M1247 674v1M100 654v1M748 654v1M937 654v1M1032 654v1M1048 654v1M1484 654v1M252 641v1M516 641v1M569 641v1M587 641v1M666 641v1M736 641v1M787 641v1M855 641v1M1146 641v1M1467 641v1M208 657v1M1040 657v1M1179 657v1M1187 657v1M1224 657v1M1286 657v1M421 617v3M430 618v2M461 619v1M463 619v1M216 649v1M246 649v1M317 649v1M602 649v1M621 649v1M744 649v1M772 649v1M861 649v1M1060 649v1M1300 649v1M212 652v1M242 652v1M746 652v1M1050 652v1M1302 652v1M1462 652v1M249 645v1M320 645v1M330 645v1M542 645v1M584 645v1M654 645v1M661 645v1M740 645v1M91 664v1M162 664v1M287 664v1M1157 664v1M1171 664v1M1213 664v1M1252 664v1M1392 664v1M1402 664v1M191 681v1M193 680v2M182 680v1M190 680v1M982 680v1M366 621v2M383 621v2M432 622v1M457 622v1M465 621v2M1112 622v1M187 677v1M196 676v2M977 677v1M984 677v1M199 673v1M988 673v1M994 673v1M1004 673v1M422 616v1M429 616v2M462 618v1M992 676v1M1002 676v1M428 614v2M189 679v1M194 679v1M458 621v1M1122 621v1"/></g>
<path d="M11 635.5H1507" stroke="#0054c8"/>
<path d="M11 674.5H1507" stroke="#f05800"/>
<g stroke="#008c30" fill="none"><path transform="translate(0 .5)" d="M337 724h11M421 724h2M443 724h2M574 724h2M692 724h2M802 724h2M811 724h2M829 724h2M849 724h2M873 724h2M1058 724h2M1310 724h2M1315 724h5M1338 724h2M1346 724h4M330 728h2M352 728h2M387 728h8M404 728h2M497 728h3M589 728h2M607 728h2M734 728h2M770 728h2M817 728h3M1290 728h8M148 739h2M167 739h6M203 739h2M287 739h3M311 739h2M1033 739h2M1255 739h5M1501 739h3M354 727h2M360 727h19M385 727h2M410 727h5M438 727h2M550 727h5M587 727h2M724 727h2M731 727h3M820 727h3M855 727h2M1140 727h2M1330 727h2M1333 727h2M1356 727h3M1366 727h2M445 723h2M690 723h2M694 723h2M712 723h2M827 723h2M847 723h2M867 723h6M1060 723h2M1312 723h3M1340 723h2M1344 723h2M109 730h2M220 730h5M230 730h5M267 730h3M325 730h3M400 730h3M515 730h2M611 730h4M650 730h13M859 730h2M1144 730h2M1445 730h3M152 741h8M163 741h2M175 741h2M307 741h2M755 741h2M1037 741h8M1231 741h2M1272 741h3M1382 741h3M1388 741h2M1409 741h2M1506 741h2M179 744h2M297 744h6M1241 744h7M1393 744h2M1404 744h2M121 731h3M212 731h8M225 731h5M270 731h3M319 731h2M537 731h6M599 731h2M619 731h2M647 731h3M1442 731h3M486 719h4M677 719h7M789 719h2M796 719h2M882 719h2M891 719h2M1069 719h2M1080 719h2M1097 719h8M335 725h2M381 725h2M419 725h2M560 725h3M667 725h6M727 725h2M804 725h2M809 725h2M824 725h2M831 725h2M851 725h2M875 725h2M1127 725h3M1135 725h3M1308 725h2M1320 725h8M1350 725h4M1361 725h3M424 722h2M429 722h2M447 722h2M472 722h8M688 722h2M696 722h2M714 722h2M781 722h4M845 722h2M1116 722h2M1342 722h2M190 748h3M1015 748h3M1195 748h2M1200 748h5M303 743h2M1222 743h7M1268 743h2M1406 743h2M451 720h4M468 720h2M484 720h2M490 720h3M684 720h2M700 720h2M777 720h2M837 720h6M1064 720h2M1071 720h4M1078 720h2M1084 720h2M1105 720h9M1120 720h2M160 742h3M294 742h2M305 742h2M939 742h2M1024 742h2M1045 742h3M1229 742h2M1264 742h2M1270 742h2M1275 742h3M1390 742h2M251 736h2M523 736h2M639 736h2M927 736h3M1179 736h2M1186 736h2M1417 736h3M1452 736h2M1470 736h3M1482 736h2M185 747h5M193 747h2M1159 747h2M1165 747h2M1193 747h2M242 734h7M254 734h2M261 734h2M277 734h6M742 734h6M1372 734h3M1425 734h5M1435 734h3M1456 734h2M1475 734h2M1478 734h2M140 737h5M1184 737h2M1415 737h2M1484 737h2M1495 737h4M235 729h3M322 729h3M328 729h2M395 729h5M500 729h3M513 729h2M534 729h2M591 729h7M609 729h2M615 729h3M736 729h2M768 729h2M1287 729h3M975 763h5M1002 763h2M449 721h2M455 721h3M470 721h2M480 721h4M686 721h2M698 721h2M716 721h2M779 721h2M785 721h3M843 721h2M1075 721h3M1114 721h2M1118 721h2M182 746h3M195 746h2M1163 746h2M1237 746h2M1397 746h3M333 726h2M349 726h2M356 726h4M379 726h2M383 726h2M407 726h3M415 726h4M434 726h2M440 726h2M547 726h3M555 726h5M729 726h2M806 726h3M814 726h2M853 726h2M1130 726h5M1138 726h2M1328 726h2M1335 726h2M1354 726h2M1359 726h2M1364 726h2M137 738h3M145 738h3M205 738h2M1182 738h2M1252 738h3M1413 738h2M1486 738h9M1499 738h2M987 750h3M996 750h2M150 740h2M165 740h2M173 740h2M290 740h3M309 740h2M753 740h2M942 740h6M1035 740h2M1214 740h2M1260 740h3M1385 740h3M1504 740h2M792 717h2M886 717h3M905 717h4M916 717h2M1093 717h2M119 732h2M124 732h2M130 732h3M257 732h2M264 732h2M273 732h2M1440 732h2M249 735h2M525 735h2M930 735h3M1375 735h3M1420 735h5M1454 735h2M1467 735h3M1473 735h2M1480 735h2M1012 749h3M1197 749h3M1205 749h3M794 718h2M884 718h2M889 718h2M902 718h3M1067 718h2M1095 718h2M117 733h2M126 733h4M259 733h2M275 733h2M622 733h6M1430 733h5M1438 733h2M952 753h3M899 716h2M909 716h2M914 716h2M918 716h2M972 762h3M980 762h3M911 715h3M920 715h3M955 752h2M992 752h2M990 751h2M994 751h2M1239 745h2M1395 745h2M1400 745h4"/><path transform="translate(.5 0)" d="M432 724v1M495 724v2M506 724v1M508 724v1M571 723v2M673 724v1M705 724v2M711 724v1M719 724v1M774 724v1M826 724v1M833 724v1M866 724v2M878 724v2M924 721v4M1126 724v1M112 728v1M437 728v1M503 728v1M512 728v1M531 728v2M533 728v1M545 728v1M565 728v2M569 727v2M579 728v1M586 728v1M631 728v1M633 728v2M664 728v1M707 728v1M721 727v2M723 728v1M857 728v1M864 728v2M925 725v5M1055 728v2M1142 728v1M1306 727v2M1332 728v1M1368 728v2M752 739v1M759 739v1M934 738v2M1031 739v1M1049 739v1M1151 739v2M1174 739v1M1189 739v2M1216 739v1M1218 739v1M1251 739v1M1280 739v1M1380 738v2M1412 739v1M1461 739v2M1464 739v1M332 727v1M351 727v1M406 727v1M436 727v1M496 726v2M504 727v1M511 727v1M532 727v1M546 727v1M564 727v1M578 727v1M632 727v1M665 727v1M706 726v2M708 727v1M772 727v1M816 727v1M865 726v2M1056 726v2M423 723v1M431 723v1M494 723v1M507 723v1M573 723v1M674 723v1M704 722v2M718 722v2M775 723v1M801 723v1M834 723v1M879 723v1M1125 722v2M114 730v1M238 730v1M321 730v1M530 730v1M536 730v1M543 730v1M566 730v1M568 729v2M580 729v2M584 730v1M598 730v1M605 730v1M618 730v1M630 729v2M634 730v1M738 730v1M767 730v1M863 730v2M926 730v4M1054 730v2M1286 730v2M1299 730v1M1304 730v1M1369 730v1M201 741v1M293 741v1M758 740v2M935 740v2M941 741v1M947 741v1M1021 741v2M1023 741v1M1030 740v2M1048 740v2M1152 741v1M1173 740v2M1190 741v2M1213 741v1M1220 741v1M1250 740v2M1263 741v1M1278 741v1M1462 741v1M198 744v1M937 744v1M948 742v3M1020 743v2M1027 744v1M1154 744v1M1170 744v2M1191 743v2M1211 743v2M1235 744v1M1267 744v1M108 731v1M115 731v1M239 731v1M266 731v1M517 731v1M529 731v1M567 731v1M581 731v1M583 731v1M604 731v1M629 731v1M635 731v1M739 731v1M766 731v1M861 731v1M1146 731v1M1300 731v1M1303 731v2M1370 731v1M1448 731v1M961 757v2M964 757v1M969 756v2M984 756v3M1000 757v3M1006 757v2M458 719v2M467 719v1M702 719v1M923 717v4M1066 719v1M1083 719v1M1090 718v2M1122 719v1M348 725v1M433 725v1M442 725v1M505 725v2M509 725v1M570 725v2M576 725v1M710 725v1M720 725v2M773 725v2M813 725v1M1057 725v1M1337 725v1M493 721v2M572 722v1M675 721v2M776 721v2M800 722v1M835 722v1M880 722v1M1062 722v1M1087 722v1M950 747v3M1156 747v2M1158 748v1M1167 748v1M1208 747v2M178 743v1M199 743v1M296 743v1M936 742v2M938 743v1M1026 743v1M1028 743v1M1153 742v2M1171 743v1M1234 743v1M1248 743v1M1266 743v1M1392 743v1M427 720v1M676 720v1M703 720v2M788 720v1M798 720v1M881 720v2M1089 720v1M1123 720v1M177 742v1M200 742v1M757 742v1M1029 742v1M1172 742v1M1212 742v1M1221 742v1M1233 742v1M1249 742v1M1408 742v1M135 735v2M208 736v1M284 736v1M315 735v2M521 736v1M643 736v2M749 736v1M761 736v2M933 736v2M1051 735v2M1149 735v2M1176 735v2M1283 735v2M1378 736v1M1458 735v2M1466 736v1M1018 746v2M1168 747v1M134 734v1M210 733v2M316 734v1M520 734v2M527 734v1M637 734v1M645 734v1M763 734v1M927 734v2M1052 734v1M1148 733v2M1177 734v1M1284 734v1M1450 733v2M136 737v1M207 737v1M285 737v1M314 737v1M522 737v1M641 737v1M750 737v1M1050 737v2M1150 737v2M1175 737v2M1181 737v1M1188 737v2M1282 737v1M1379 737v1M1459 737v1M1465 737v2M111 729v1M113 729v1M403 729v1M544 729v1M585 729v1M606 729v1M663 729v1M722 729v1M858 729v1M1143 729v1M1298 729v1M1305 729v1M426 721v1M428 721v1M799 721v1M836 721v1M1063 721v1M1086 721v1M1088 721v1M1124 721v1M949 745v2M1155 745v2M1161 746v1M1169 746v1M1192 745v2M1209 746v1M510 726v1M563 726v1M577 726v1M666 726v1M709 726v1M726 726v1M823 726v1M877 726v1M1307 726v1M286 738v1M313 738v1M642 738v1M751 738v1M760 738v1M1032 738v1M1217 738v1M1281 738v1M1460 738v1M951 750v3M1011 750v2M202 740v1M1022 740v1M1219 740v1M1279 740v1M1381 740v1M1411 740v1M1463 740v1M460 717v1M465 717v1M894 717v1M901 717v1M1091 717v1M107 732v1M116 732v1M211 732v1M240 732v1M318 732v1M518 732v1M528 732v2M582 732v1M601 732v1M603 732v1M621 732v1M628 732v1M636 732v2M646 732v2M740 732v1M765 732v1M862 732v1M1053 732v2M1147 732v1M1285 732v2M1301 732v1M1371 732v2M1449 732v1M209 735v1M253 735v1M283 735v1M638 735v1M644 735v1M748 735v1M762 735v1M1178 735v1M1451 735v1M987 749v1M1157 749v1M459 718v1M466 718v1M791 718v1M893 718v1M1082 718v1M133 733v1M241 733v1M256 733v1M263 733v1M317 733v1M519 733v1M602 733v1M741 733v1M764 733v1M1302 733v1M1477 733v1M962 759v1M970 758v2M983 759v2M1005 759v2M958 752v2M967 753v1M985 753v3M998 752v3M1009 753v1M461 715v2M464 716v1M895 716v1M922 714v1M922 716v1M1092 716v1M963 758v1M971 760v2M1001 760v3M1003 762v1M960 755v2M965 755v2M968 754v2M999 755v2M1008 754v2M463 715v1M896 715v1M898 715v1M986 751v2M1010 752v1M1007 756v1M957 751v1M997 751v1M462 714v1M897 714v1M982 761v1M1004 761v1M952 754v1M959 754v1M966 754v1M181 745v1M197 745v1M1019 745v1M1162 745v1M1210 745v1M1236 745v1M1002 764v1"/></g>
<path d="M11 736.5H1507" stroke="#f05800"/>
<g stroke="#008c30" fill="none"><path transform="translate(0 .5)" d="M162 855h2M327 855h2M1017 855h2M1027 855h2M1047 855h2M1197 855h2M1277 855h2M222 814h6M237 814h31M347 814h6M397 814h36M447 814h6M467 814h21M557 814h6M572 814h16M662 814h6M722 814h6M927 814h41M1107 814h16M1142 814h6M1317 814h6M1472 814h6M112 835h6M612 835h6M627 835h21M757 835h6M832 835h6M867 835h31M1072 835h26M1167 835h11M1222 835h11M1252 835h6M1287 835h6M1417 835h6M1487 835h6M122 825h11M142 825h6M437 825h6M537 825h16M602 825h6M652 825h6M732 825h6M747 825h6M767 825h21M797 825h6M812 825h16M1062 825h6M1152 825h11M1307 825h6M372 804h21M457 804h6M492 804h16M672 804h6M707 804h11M1337 804h6M1447 804h6M1462 804h6M922 805h2M1137 805h2M1327 805h2M97 846h11M167 846h11M312 846h11M852 846h11M992 846h6M1032 846h11M1202 846h6M1262 846h11M1372 846h11M82 856h11M182 856h6M197 856h6M287 856h6M1002 856h6M1387 856h6M842 826h2M1217 826h2M1297 826h2M1362 826h2M1497 826h2M77 847h2M1012 847h2M1022 847h2M297 867h6M1397 867h6M137 834h2M522 834h2M742 834h2M807 834h2M1302 834h2M1357 834h2M692 813h2M1332 813h2M362 794h6M682 795h2M702 795h2M1457 795h2"/><path transform="translate(.5 0)" d="M119 831v2M135 830v2M139 831v2M150 830v2M214 831v2M275 830v2M339 831v2M520 830v2M524 831v2M610 830v2M649 831v2M740 830v2M744 831v2M755 830v2M764 831v2M805 830v2M809 831v2M830 830v2M839 831v2M845 830v2M909 831v2M975 830v2M1059 831v2M1070 830v2M1099 831v2M1165 830v2M1214 831v2M1220 830v2M1294 831v2M1300 830v2M1304 831v2M1355 830v2M1359 831v2M1365 830v2M1424 831v2M1485 830v2M1494 831v2M1500 830v2M73 854v2M82 855v1M93 854v2M182 855v1M203 854v2M287 855v1M308 854v2M1002 855v1M1008 854v2M1387 855v1M1408 854v2M512 813v3M532 814v2M597 814v2M692 814v1M792 814v2M917 814v2M1132 814v2M1332 814v1M1347 813v3M1432 814v2M1442 814v2M137 835v1M152 834v3M212 835v2M277 834v3M337 835v2M522 835v1M742 835v1M807 835v1M847 834v3M907 835v2M977 834v3M987 835v2M1057 835v2M1187 835v2M1212 835v2M1242 835v2M1302 835v1M1357 835v1M1367 834v3M1502 834v3M76 848v2M79 849v2M96 848v2M159 849v2M166 848v2M179 849v2M206 848v2M284 849v2M311 848v2M324 849v2M331 848v2M999 849v2M1011 848v2M1014 849v2M1021 848v2M1024 849v2M1031 848v2M1044 849v2M1051 848v2M1194 849v2M1201 848v2M1274 849v2M1281 848v2M1384 849v2M1411 848v2M136 832v2M151 832v2M276 832v2M521 832v2M611 832v2M741 832v2M756 832v2M806 832v2M831 832v2M846 832v2M976 832v2M1071 832v2M1166 832v2M1221 832v2M1301 832v2M1356 832v2M1366 832v2M1486 832v2M1501 832v2M70 860v2M189 860v2M195 860v2M294 860v2M305 860v2M1394 860v2M1405 860v2M75 850v2M80 851v2M95 850v2M160 851v2M165 850v2M180 851v2M205 850v2M285 851v2M310 850v2M325 851v2M330 850v2M1000 851v2M1010 850v2M1015 851v2M1020 850v2M1025 851v2M1030 850v2M1045 851v2M1050 850v2M1195 851v2M1200 850v2M1275 851v2M1280 850v2M1385 851v2M1410 850v2M74 852v2M94 852v2M164 852v2M204 852v2M309 852v2M329 852v2M1009 852v2M1019 852v2M1029 852v2M1049 852v2M1199 852v2M1279 852v2M1409 852v2M121 827v2M134 828v2M141 827v2M149 828v2M216 827v2M274 828v2M341 827v2M519 828v2M526 827v2M609 828v2M651 827v2M739 828v2M746 827v2M754 828v2M766 827v2M804 828v2M811 827v2M829 828v2M841 827v2M844 828v2M911 827v2M974 828v2M1061 827v2M1069 828v2M1101 827v2M1164 828v2M1216 827v2M1219 828v2M1296 827v2M1299 828v2M1306 827v2M1354 828v2M1361 827v2M1364 828v2M1426 827v2M1484 828v2M1496 827v2M1499 828v2M217 824v3M232 824v2M272 824v2M342 824v3M517 824v2M527 824v3M567 824v2M592 824v2M842 825v1M912 824v3M972 824v2M1102 824v3M1127 824v2M1217 825v1M1297 825v1M1352 824v2M1362 825v1M1427 824v3M1437 824v2M1482 824v2M1497 825v1M355 808v2M394 807v2M455 808v2M464 807v2M490 808v2M509 807v2M670 808v2M689 807v2M695 808v2M719 807v2M920 808v2M924 807v2M1135 808v2M1139 807v2M1325 808v2M1329 807v2M1335 808v2M1344 807v2M1445 808v2M1469 807v2M359 800v2M371 801v2M679 800v2M686 801v2M699 800v2M706 801v2M1454 800v2M1461 801v2M81 853v2M161 853v2M163 854v1M181 853v2M286 853v2M326 853v2M328 854v1M1001 853v2M1016 853v2M1018 854v1M1026 853v2M1028 854v1M1046 853v2M1048 854v1M1196 853v2M1198 854v1M1276 853v2M1278 854v1M1386 853v2M109 841v2M155 841v2M209 841v2M280 841v2M334 841v2M620 841v2M624 841v2M850 841v2M864 841v2M900 841v2M904 841v2M980 841v2M984 841v2M990 841v2M1054 841v2M1180 841v2M1184 841v2M1190 841v2M1209 841v2M1235 841v2M1239 841v2M1245 841v2M1249 841v2M1260 841v2M1284 841v2M1370 841v2M1414 841v2M1505 841v2M357 804v2M687 803v2M697 804v2M922 804v1M1137 804v1M1327 804v1M370 799v2M685 799v2M705 799v2M1460 799v2M108 843v2M156 843v2M208 843v2M281 843v2M333 843v2M621 843v2M623 843v2M851 843v2M863 843v2M901 843v2M903 843v2M981 843v2M983 843v2M991 843v2M1053 843v2M1181 843v2M1183 843v2M1191 843v2M1208 843v2M1236 843v2M1238 843v2M1246 843v2M1248 843v2M1261 843v2M1283 843v2M1371 843v2M1413 843v2M1506 843v2M393 805v2M457 805v1M463 805v2M492 805v1M508 805v2M672 805v1M688 805v2M718 805v2M1337 805v1M1343 805v2M1447 805v1M1468 805v2M118 833v2M138 833v1M213 833v2M338 833v2M523 833v1M648 833v2M743 833v1M763 833v2M808 833v1M838 833v2M908 833v2M1058 833v2M1098 833v2M1213 833v2M1293 833v2M1303 833v1M1358 833v1M1423 833v2M1493 833v2M77 846v1M157 845v2M207 845v3M282 845v2M332 845v3M622 845v2M902 845v2M982 845v2M1012 846v1M1022 846v1M1052 845v3M1182 845v2M1192 845v2M1237 845v2M1247 845v2M1282 845v3M1412 845v3M1507 845v2M72 856v2M187 857v1M197 857v1M292 857v1M307 856v2M1392 857v1M1407 856v2M219 820v2M230 820v2M234 820v2M270 820v2M344 820v2M435 820v2M444 820v2M515 820v2M529 820v2M535 820v2M554 820v2M565 820v2M569 820v2M590 820v2M594 820v2M600 820v2M659 820v2M730 820v2M789 820v2M795 820v2M914 820v2M970 820v2M1104 820v2M1125 820v2M1129 820v2M1150 820v2M1314 820v2M1350 820v2M1429 820v2M1435 820v2M1439 820v2M1480 820v2M107 845v1M852 845v1M862 845v1M992 845v1M1207 845v1M1262 845v1M1372 845v1M222 815v1M227 815v1M237 815v1M267 815v1M347 815v1M432 815v1M447 815v1M557 815v1M562 815v1M572 815v1M587 815v1M662 815v1M727 815v1M967 815v1M1107 815v1M1122 815v1M1147 815v1M1317 815v1M1477 815v1M162 856v1M327 856v1M1017 856v1M1027 856v1M1047 856v1M1197 856v1M1277 856v1M120 829v2M140 829v2M215 829v2M340 829v2M525 829v2M650 829v2M745 829v2M765 829v2M810 829v2M840 829v2M910 829v2M1060 829v2M1100 829v2M1215 829v2M1295 829v2M1305 829v2M1360 829v2M1425 829v2M1495 829v2M122 826v1M133 826v2M142 826v1M148 826v2M273 826v2M518 826v2M608 826v2M652 826v1M738 826v2M747 826v1M753 826v2M767 826v1M803 826v2M812 826v1M828 826v2M973 826v2M1062 826v1M1068 826v2M1163 826v2M1307 826v1M1353 826v2M1483 826v2M437 824v1M442 824v1M537 824v1M552 824v1M602 824v1M657 824v1M732 824v1M787 824v1M797 824v1M1152 824v1M1312 824v1M97 847v1M158 847v2M167 847v1M178 847v2M283 847v2M312 847v1M323 847v2M998 847v2M1032 847v1M1043 847v2M1193 847v2M1202 847v1M1273 847v2M1383 847v2M78 848v1M1013 848v1M1023 848v1M67 866v2M192 866v2M220 818v2M229 818v2M235 818v2M269 818v2M345 818v2M434 818v2M445 818v2M514 818v2M530 818v2M534 818v2M555 818v2M564 818v2M570 818v2M589 818v2M595 818v2M599 818v2M660 818v2M729 818v2M790 818v2M794 818v2M915 818v2M969 818v2M1105 818v2M1124 818v2M1130 818v2M1149 818v2M1315 818v2M1349 818v2M1430 818v2M1434 818v2M1440 818v2M1479 818v2M843 827v1M1218 827v1M1298 827v1M1363 827v1M1498 827v1M218 822v2M231 822v2M233 822v2M271 822v2M343 822v2M436 822v2M443 822v2M516 822v2M528 822v2M536 822v2M553 822v2M566 822v2M568 822v2M591 822v2M593 822v2M601 822v2M658 822v2M731 822v2M788 822v2M796 822v2M913 822v2M971 822v2M1103 822v2M1126 822v2M1128 822v2M1151 822v2M1313 822v2M1351 822v2M1428 822v2M1436 822v2M1438 822v2M1481 822v2M356 806v2M456 806v2M491 806v2M671 806v2M696 806v2M921 806v2M923 806v1M1136 806v2M1138 806v1M1326 806v2M1328 806v1M1336 806v2M1446 806v2M221 816v2M228 816v2M236 816v2M268 816v2M346 816v2M433 816v2M446 816v2M513 816v2M531 816v2M533 816v2M556 816v2M563 816v2M571 816v2M588 816v2M596 816v2M598 816v2M661 816v2M728 816v2M791 816v2M793 816v2M916 816v2M968 816v2M1106 816v2M1123 816v2M1131 816v2M1148 816v2M1316 816v2M1348 816v2M1431 816v2M1433 816v2M1441 816v2M1478 816v2M354 810v2M396 811v2M454 810v2M466 811v2M489 810v2M511 811v2M669 810v2M691 811v2M694 810v2M721 811v2M919 810v2M926 811v2M1134 810v2M1141 811v2M1324 810v2M1331 811v2M1334 810v2M1346 811v2M1444 810v2M1471 811v2M68 864v2M191 864v2M193 864v2M296 864v2M303 864v2M1396 864v2M1403 864v2M111 837v2M153 837v2M211 837v2M278 837v2M336 837v2M618 837v2M626 837v2M848 837v2M866 837v2M898 837v2M906 837v2M978 837v2M986 837v2M988 837v2M1056 837v2M1178 837v2M1186 837v2M1188 837v2M1211 837v2M1233 837v2M1241 837v2M1243 837v2M1251 837v2M1258 837v2M1286 837v2M1368 837v2M1416 837v2M1503 837v2M110 839v2M154 839v2M210 839v2M279 839v2M335 839v2M619 839v2M625 839v2M849 839v2M865 839v2M899 839v2M905 839v2M979 839v2M985 839v2M989 839v2M1055 839v2M1179 839v2M1185 839v2M1189 839v2M1210 839v2M1234 839v2M1240 839v2M1244 839v2M1250 839v2M1259 839v2M1285 839v2M1369 839v2M1415 839v2M1504 839v2M112 836v1M617 836v1M627 836v1M867 836v1M897 836v1M1177 836v1M1232 836v1M1252 836v1M1257 836v1M1287 836v1M1417 836v1M612 834v1M757 834v1M832 834v1M1072 834v1M1167 834v1M1222 834v1M1487 834v1M395 809v2M465 809v2M510 809v2M690 809v2M720 809v2M925 809v2M1140 809v2M1330 809v2M1345 809v2M1470 809v2M360 798v2M369 797v2M680 798v2M684 797v2M700 798v2M704 797v2M1455 798v2M1459 797v2M353 812v2M397 813v1M453 812v2M467 813v1M488 812v2M668 812v2M722 813v1M918 812v2M927 813v1M1133 812v2M1142 813v1M1323 812v2M1443 812v2M1472 813v1M69 862v2M190 862v2M194 862v2M295 862v2M304 862v2M1395 862v2M1404 862v2M71 858v2M188 858v2M196 858v2M293 858v2M306 858v2M1393 858v2M1406 858v2M358 802v2M372 803v1M678 802v2M698 802v2M707 803v1M1453 802v2M1462 803v1M297 866v1M302 866v1M1397 866v1M1402 866v1M693 812v1M1333 812v1M682 794v1M702 794v1M1457 794v1M362 795v1M368 795v2M361 796v2M681 796v2M701 796v2M1456 796v2M683 796v1M703 796v1M1458 796v1"/></g>
<path d="M11 804.5H1507" stroke="#0054c8"/>
<path d="M11 867.5H1507" stroke="#f05800"/>
<rect x="10" y="481" width="1518" height="2" fill="#000"/>
<rect x="10" y="589" width="1518" height="2" fill="#000"/>
<rect x="10" y="691" width="1518" height="2" fill="#000"/>
<rect x="10" y="770" width="1518" height="2" fill="#000"/>
<rect x="10" y="873" width="1518" height="2" fill="#000"/>
<rect x="11" y="949" width="1517" height="2" fill="#000"/>
<rect x="1527" y="102" width="2" height="852" fill="#000"/>
<path d="M11 946h3V954h-3zM16 946h3V954h-3zM21 945h3V954h-3zM26 947h3V954h-3zM31 948h3V954h-3zM36 943h3V954h-3zM41 945h3V954h-3zM46 946h3V954h-3zM51 944h3V954h-3zM56 944h3V954h-3zM61 945h3V954h-3zM66 945h3V954h-3zM71 944h3V954h-3zM76 941h3V954h-3zM81 945h3V954h-3zM86 946h3V954h-3zM91 944h3V954h-3zM96 946h3V954h-3zM101 937h3V954h-3zM106 942h3V954h-3zM111 940h3V954h-3zM116 941h3V954h-3zM121 944h3V954h-3zM126 945h3V954h-3zM131 942h3V954h-3zM136 945h3V954h-3zM141 943h3V954h-3zM146 942h3V954h-3zM151 945h3V954h-3zM156 945h3V954h-3zM161 945h3V954h-3zM166 943h3V954h-3zM171 944h3V954h-3zM176 943h3V954h-3zM181 944h3V954h-3zM186 943h3V954h-3zM191 943h3V954h-3zM196 943h3V954h-3zM201 944h3V954h-3zM206 942h3V954h-3zM211 940h3V954h-3zM216 942h3V954h-3zM221 944h3V954h-3zM226 944h3V954h-3zM231 942h3V954h-3zM236 944h3V954h-3zM241 942h3V954h-3zM246 945h3V954h-3zM251 940h3V954h-3zM256 942h3V954h-3zM261 942h3V954h-3zM266 941h3V954h-3zM271 945h3V954h-3zM276 944h3V954h-3zM281 942h3V954h-3zM286 944h3V954h-3zM291 944h3V954h-3zM296 946h3V954h-3zM301 944h3V954h-3zM306 945h3V954h-3zM311 939h3V954h-3zM316 936h3V954h-3zM321 940h3V954h-3zM326 941h3V954h-3zM331 941h3V954h-3zM336 940h3V954h-3zM341 939h3V954h-3zM346 941h3V954h-3zM351 943h3V954h-3zM356 942h3V954h-3zM361 937h3V954h-3zM366 942h3V954h-3zM371 943h3V954h-3zM376 942h3V954h-3zM381 940h3V954h-3zM386 940h3V954h-3zM391 941h3V954h-3zM396 944h3V954h-3zM401 941h3V954h-3zM406 934h3V954h-3zM411 931h3V954h-3zM416 934h3V954h-3zM421 929h3V954h-3zM426 925h3V954h-3zM431 927h3V954h-3zM436 928h3V954h-3zM441 939h3V954h-3zM446 934h3V954h-3zM451 929h3V954h-3zM456 934h3V954h-3zM461 930h3V954h-3zM466 929h3V954h-3zM471 929h3V954h-3zM476 928h3V954h-3zM481 924h3V954h-3zM486 929h3V954h-3zM491 929h3V954h-3zM496 928h3V954h-3zM501 925h3V954h-3zM506 926h3V954h-3zM511 930h3V954h-3zM516 926h3V954h-3zM521 930h3V954h-3zM526 931h3V954h-3zM531 930h3V954h-3zM536 932h3V954h-3zM541 929h3V954h-3zM546 932h3V954h-3zM551 927h3V954h-3zM556 927h3V954h-3zM561 921h3V954h-3zM566 919h3V954h-3zM571 920h3V954h-3zM576 916h3V954h-3zM581 923h3V954h-3zM586 924h3V954h-3zM591 926h3V954h-3zM596 928h3V954h-3zM601 921h3V954h-3zM606 932h3V954h-3zM611 935h3V954h-3zM616 934h3V954h-3zM621 935h3V954h-3zM626 930h3V954h-3zM631 930h3V954h-3zM636 926h3V954h-3zM641 932h3V954h-3zM646 930h3V954h-3zM651 933h3V954h-3zM656 932h3V954h-3zM661 932h3V954h-3zM666 933h3V954h-3zM671 931h3V954h-3zM676 918h3V954h-3zM681 920h3V954h-3zM686 923h3V954h-3zM691 933h3V954h-3zM696 934h3V954h-3zM701 926h3V954h-3zM706 932h3V954h-3zM711 934h3V954h-3zM716 929h3V954h-3zM721 934h3V954h-3zM726 935h3V954h-3zM731 933h3V954h-3zM736 937h3V954h-3zM741 933h3V954h-3zM746 936h3V954h-3zM751 934h3V954h-3zM756 927h3V954h-3zM761 931h3V954h-3zM766 923h3V954h-3zM771 906h3V954h-3zM776 917h3V954h-3zM781 919h3V954h-3zM786 915h3V954h-3zM791 916h3V954h-3zM796 921h3V954h-3zM801 923h3V954h-3zM806 922h3V954h-3zM811 926h3V954h-3zM816 922h3V954h-3zM821 928h3V954h-3zM826 922h3V954h-3zM831 922h3V954h-3zM836 920h3V954h-3zM841 922h3V954h-3zM846 925h3V954h-3zM851 930h3V954h-3zM856 932h3V954h-3zM861 935h3V954h-3zM866 931h3V954h-3zM871 926h3V954h-3zM876 926h3V954h-3zM881 922h3V954h-3zM886 915h3V954h-3zM891 922h3V954h-3zM896 911h3V954h-3zM901 916h3V954h-3zM906 922h3V954h-3zM911 918h3V954h-3zM916 907h3V954h-3zM921 906h3V954h-3zM926 897h3V954h-3zM931 910h3V954h-3zM936 925h3V954h-3zM941 923h3V954h-3zM946 926h3V954h-3zM951 921h3V954h-3zM956 924h3V954h-3zM961 924h3V954h-3zM966 916h3V954h-3zM971 922h3V954h-3zM976 922h3V954h-3zM981 922h3V954h-3zM986 931h3V954h-3zM991 928h3V954h-3zM996 933h3V954h-3zM1001 931h3V954h-3zM1006 927h3V954h-3zM1011 937h3V954h-3zM1016 937h3V954h-3zM1021 934h3V954h-3zM1026 934h3V954h-3zM1031 930h3V954h-3zM1036 938h3V954h-3zM1041 935h3V954h-3zM1046 937h3V954h-3zM1051 935h3V954h-3zM1056 931h3V954h-3zM1061 937h3V954h-3zM1066 933h3V954h-3zM1071 934h3V954h-3zM1076 937h3V954h-3zM1081 934h3V954h-3zM1086 931h3V954h-3zM1091 934h3V954h-3zM1096 934h3V954h-3zM1101 934h3V954h-3zM1106 935h3V954h-3zM1111 935h3V954h-3zM1116 931h3V954h-3zM1121 935h3V954h-3zM1126 928h3V954h-3zM1131 937h3V954h-3zM1136 938h3V954h-3zM1141 940h3V954h-3zM1146 939h3V954h-3zM1151 935h3V954h-3zM1156 936h3V954h-3zM1161 936h3V954h-3zM1166 936h3V954h-3zM1171 936h3V954h-3zM1176 935h3V954h-3zM1181 941h3V954h-3zM1186 938h3V954h-3zM1191 937h3V954h-3zM1196 938h3V954h-3zM1201 939h3V954h-3zM1206 942h3V954h-3zM1211 941h3V954h-3zM1216 939h3V954h-3zM1221 940h3V954h-3zM1226 941h3V954h-3zM1231 945h3V954h-3zM1236 940h3V954h-3zM1241 940h3V954h-3zM1246 941h3V954h-3zM1251 938h3V954h-3zM1256 944h3V954h-3zM1261 943h3V954h-3zM1266 941h3V954h-3zM1271 942h3V954h-3zM1276 939h3V954h-3zM1281 942h3V954h-3zM1286 937h3V954h-3zM1291 938h3V954h-3zM1296 937h3V954h-3zM1301 939h3V954h-3zM1306 933h3V954h-3zM1311 923h3V954h-3zM1316 929h3V954h-3zM1321 936h3V954h-3zM1326 928h3V954h-3zM1331 928h3V954h-3zM1336 932h3V954h-3zM1341 927h3V954h-3zM1346 929h3V954h-3zM1351 934h3V954h-3zM1356 932h3V954h-3zM1361 932h3V954h-3zM1366 932h3V954h-3zM1371 935h3V954h-3zM1376 934h3V954h-3zM1381 933h3V954h-3zM1386 937h3V954h-3zM1391 938h3V954h-3zM1396 938h3V954h-3zM1401 935h3V954h-3zM1406 937h3V954h-3zM1411 939h3V954h-3zM1416 937h3V954h-3zM1421 940h3V954h-3zM1426 942h3V954h-3zM1431 940h3V954h-3zM1436 940h3V954h-3zM1441 942h3V954h-3zM1446 939h3V954h-3zM1451 935h3V954h-3zM1456 938h3V954h-3zM1461 937h3V954h-3zM1466 938h3V954h-3zM1471 933h3V954h-3zM1476 929h3V954h-3zM1481 934h3V954h-3zM1486 935h3V954h-3zM1491 936h3V954h-3zM1496 936h3V954h-3zM1501 939h3V954h-3zM1506 939h3V954h-3z" fill="#009030"/>
<text x="11" y="972" font-size="14" fill="#000" font-weight="bold">12</text>
<text x="57.7" y="972" font-size="14" fill="#000" text-anchor="middle" font-weight="bold">S</text>
<text x="81.5" y="972" font-size="13.5" fill="#000" text-anchor="middle">10</text>
<text x="106.5" y="972" font-size="13.5" fill="#000" text-anchor="middle">18</text>
<text x="126.5" y="972" font-size="13.5" fill="#000" text-anchor="middle">24</text>
<text x="152.7" y="972" font-size="14" fill="#000" text-anchor="middle" font-weight="bold">O</text>
<text x="176.5" y="972" font-size="13.5" fill="#000" text-anchor="middle">09</text>
<text x="196.5" y="972" font-size="13.5" fill="#000" text-anchor="middle">15</text>
<text x="221.5" y="972" font-size="13.5" fill="#000" text-anchor="middle">22</text>
<text x="246.5" y="972" font-size="13.5" fill="#000" text-anchor="middle">29</text>
<text x="262.7" y="972" font-size="14" fill="#000" text-anchor="middle" font-weight="bold">N</text>
<text x="296.5" y="972" font-size="13.5" fill="#000" text-anchor="middle">12</text>
<text x="321.5" y="972" font-size="13.5" fill="#000" text-anchor="middle">19</text>
<text x="341.5" y="972" font-size="13.5" fill="#000" text-anchor="middle">26</text>
<text x="367.7" y="972" font-size="14" fill="#000" text-anchor="middle" font-weight="bold">D</text>
<text x="391.5" y="972" font-size="13.5" fill="#000" text-anchor="middle">10</text>
<text x="416.5" y="972" font-size="13.5" fill="#000" text-anchor="middle">17</text>
<text x="441.5" y="972" font-size="13.5" fill="#000" text-anchor="middle">25</text>
<text x="462.7" y="972" font-size="14" fill="#000" text-anchor="middle" font-weight="bold">13</text>
<text x="491.5" y="972" font-size="13.5" fill="#000" text-anchor="middle">15</text>
<text x="511.5" y="972" font-size="13.5" fill="#000" text-anchor="middle">21</text>
<text x="536.5" y="972" font-size="13.5" fill="#000" text-anchor="middle">28</text>
<text x="557.7" y="972" font-size="14" fill="#000" text-anchor="middle" font-weight="bold">F</text>
<text x="586.5" y="972" font-size="13.5" fill="#000" text-anchor="middle">12</text>
<text x="606.5" y="972" font-size="13.5" fill="#000" text-anchor="middle">18</text>
<text x="631.5" y="972" font-size="13.5" fill="#000" text-anchor="middle">25</text>
<text x="652.7" y="972" font-size="14" fill="#000" text-anchor="middle" font-weight="bold">M</text>
<text x="681.5" y="972" font-size="13.5" fill="#000" text-anchor="middle">11</text>
<text x="706.5" y="972" font-size="13.5" fill="#000" text-anchor="middle">18</text>
<text x="726.5" y="972" font-size="13.5" fill="#000" text-anchor="middle">25</text>
<text x="752.7" y="972" font-size="14" fill="#000" text-anchor="middle" font-weight="bold">A</text>
<text x="776.5" y="972" font-size="13.5" fill="#000" text-anchor="middle">08</text>
<text x="801.5" y="972" font-size="13.5" fill="#000" text-anchor="middle">15</text>
<text x="826.5" y="972" font-size="13.5" fill="#000" text-anchor="middle">22</text>
<text x="857.7" y="972" font-size="14" fill="#000" text-anchor="middle" font-weight="bold">M</text>
<text x="886.5" y="972" font-size="13.5" fill="#000" text-anchor="middle">13</text>
<text x="911.5" y="972" font-size="13.5" fill="#000" text-anchor="middle">20</text>
<text x="936.5" y="972" font-size="13.5" fill="#000" text-anchor="middle">27</text>
<text x="962.7" y="972" font-size="14" fill="#000" text-anchor="middle" font-weight="bold">J</text>
<text x="986.5" y="972" font-size="13.5" fill="#000" text-anchor="middle">10</text>
<text x="1011.5" y="972" font-size="13.5" fill="#000" text-anchor="middle">17</text>
<text x="1036.5" y="972" font-size="13.5" fill="#000" text-anchor="middle">24</text>
<text x="1062.7" y="972" font-size="14" fill="#000" text-anchor="middle" font-weight="bold">J</text>
<text x="1086.5" y="972" font-size="13.5" fill="#000" text-anchor="middle">08</text>
<text x="1111.5" y="972" font-size="13.5" fill="#000" text-anchor="middle">16</text>
<text x="1131.5" y="972" font-size="13.5" fill="#000" text-anchor="middle">22</text>
<text x="1156.5" y="972" font-size="13.5" fill="#000" text-anchor="middle">29</text>
<text x="1172.7" y="972" font-size="14" fill="#000" text-anchor="middle" font-weight="bold">A</text>
<text x="1206.5" y="972" font-size="13.5" fill="#000" text-anchor="middle">12</text>
<text x="1231.5" y="972" font-size="13.5" fill="#000" text-anchor="middle">19</text>
<text x="1256.5" y="972" font-size="13.5" fill="#000" text-anchor="middle">26</text>
<text x="1282.7" y="972" font-size="14" fill="#000" text-anchor="middle" font-weight="bold">S</text>
<text x="1306.5" y="972" font-size="13.5" fill="#000" text-anchor="middle">09</text>
<text x="1331.5" y="972" font-size="13.5" fill="#000" text-anchor="middle">17</text>
<text x="1351.5" y="972" font-size="13.5" fill="#000" text-anchor="middle">24</text>
<text x="1377.7" y="972" font-size="14" fill="#000" text-anchor="middle" font-weight="bold">O</text>
<text x="1396.5" y="972" font-size="13.5" fill="#000" text-anchor="middle">07</text>
<text x="1421.5" y="972" font-size="13.5" fill="#000" text-anchor="middle">15</text>
<text x="1441.5" y="972" font-size="13.5" fill="#000" text-anchor="middle">21</text>
<text x="1466.5" y="972" font-size="13.5" fill="#000" text-anchor="middle">28</text>
<path d="M12.5 954V957M32.5 954V955M57.5 954V959M82.5 954V957M107.5 954V957M127.5 954V957M152.5 954V959M177.5 954V957M197.5 954V957M222.5 954V957M247.5 954V957M262.5 954V959M272.5 954V955M297.5 954V957M322.5 954V957M342.5 954V957M367.5 954V959M392.5 954V957M417.5 954V957M442.5 954V957M462.5 954V957M467.5 954V955M492.5 954V957M512.5 954V957M537.5 954V957M557.5 954V959M562.5 954V955M587.5 954V957M607.5 954V957M632.5 954V957M652.5 954V959M657.5 954V955M682.5 954V957M707.5 954V957M727.5 954V957M752.5 954V959M777.5 954V957M802.5 954V957M827.5 954V957M852.5 954V955M857.5 954V959M867.5 954V955M887.5 954V957M912.5 954V957M937.5 954V957M962.5 954V959M987.5 954V957M1012.5 954V957M1037.5 954V957M1062.5 954V959M1087.5 954V957M1112.5 954V957M1132.5 954V957M1157.5 954V957M1172.5 954V959M1182.5 954V955M1207.5 954V957M1232.5 954V957M1257.5 954V957M1282.5 954V959M1307.5 954V957M1332.5 954V957M1352.5 954V957M1372.5 954V955M1377.5 954V959M1397.5 954V957M1422.5 954V957M1442.5 954V957M1467.5 954V957M1487.5 954V959M1492.5 954V955" stroke="#000" stroke-width="1" fill="none"/>
<text x="1536.3" y="144" font-size="14" fill="#000" textLength="52.5" lengthAdjust="spacingAndGlyphs">16000.00</text>
<text x="1536.3" y="316" font-size="14" fill="#000" textLength="52.5" lengthAdjust="spacingAndGlyphs">12000.00</text>
<text x="1536.3" y="403" font-size="14" fill="#000" textLength="52.5" lengthAdjust="spacingAndGlyphs">10000.00</text>
<text x="1536.3" y="519" font-size="14" fill="#000" textLength="38.5" lengthAdjust="spacingAndGlyphs">500.00</text>
<text x="1536.3" y="560" font-size="14" fill="#000" textLength="24.5" lengthAdjust="spacingAndGlyphs">0.00</text>
<text x="1536.3" y="611" font-size="14" fill="#000" textLength="38.5" lengthAdjust="spacingAndGlyphs">100.00</text>
<text x="1536.3" y="660" font-size="14" fill="#000" textLength="31.5" lengthAdjust="spacingAndGlyphs">50.00</text>
<text x="1536.3" y="716" font-size="14" fill="#000" textLength="38.5" lengthAdjust="spacingAndGlyphs">110.00</text>
<text x="1536.3" y="741" font-size="14" fill="#000" textLength="38.5" lengthAdjust="spacingAndGlyphs">100.00</text>
<text x="1536.3" y="803" font-size="14" fill="#000" textLength="31.5" lengthAdjust="spacingAndGlyphs">80.00</text>
<text x="1536.3" y="828" font-size="14" fill="#000" textLength="31.5" lengthAdjust="spacingAndGlyphs">60.00</text>
<text x="1536.3" y="853" font-size="14" fill="#000" textLength="31.5" lengthAdjust="spacingAndGlyphs">40.00</text>
<text x="1536.3" y="922" font-size="14" fill="#000" textLength="45.5" lengthAdjust="spacingAndGlyphs">5000.00</text>
<path d="M1529 139.5h5M1529 225.5h5M1529 311.5h5M1529 398.5h5M1529 182.5h3M1529 268.5h3M1529 354.5h3M1529 441.5h3M1529 514.5h5M1529 555.5h5M1529 606.5h5M1529 655.5h5M1529 698.5h3M1529 711.5h5M1529 723.5h3M1529 736.5h5M1529 749.5h3M1529 762.5h5M1529 773.5h5M1529 785.5h3M1529 798.5h5M1529 810.5h3M1529 823.5h5M1529 835.5h3M1529 848.5h5M1529 860.5h3M1529 878.5h5M1529 917.5h5" stroke="#000" stroke-width="1" fill="none"/>
<rect x="1530.5" y="938.5" width="36" height="15" fill="#fff" stroke="#000"/>
<text x="1532" y="951" font-size="14" fill="#000" textLength="33" lengthAdjust="spacingAndGlyphs">x1000</text>
<rect x="1537" y="201" width="52" height="14" fill="#000090"/>
<svg x="1537" y="201" width="52" height="14" overflow="hidden"><text x="0" y="12" font-size="14" fill="#fff" textLength="55" lengthAdjust="spacingAndGlyphs">14086.80</text></svg>
<path d="M1537 219h10l-5 5.500z" fill="#000090" shape-rendering="auto"/>
<text x="1551" y="227.5" font-size="14" fill="#000090" textLength="37" lengthAdjust="spacingAndGlyphs">141.64</text>
<text x="1538" y="241.5" font-size="14" fill="#000090" textLength="32" lengthAdjust="spacingAndGlyphs">1.00%</text>
<text x="1398.5" y="130.5" font-size="14" fill="#ff0000" textLength="61" lengthAdjust="spacingAndGlyphs">H: -11.64%</text>
<text x="1469.5" y="130.5" font-size="14" fill="#000090" textLength="53" lengthAdjust="spacingAndGlyphs">L: 65.96%</text>
<path d="M927 138.500h15" stroke="#ff0000" fill="none"/><path d="M927.500 138.500l4.500-3.500" stroke="#ff0000" fill="none" shape-rendering="auto"/>
<text x="946.5" y="146" font-size="14" fill="#ff0000" textLength="138" lengthAdjust="spacingAndGlyphs">15,942.60 (2013/05/23)</text>
<path d="M197 466.500h15" stroke="#000098" fill="none"/><path d="M197.500 466.500l4.500 3.500" stroke="#000098" fill="none" shape-rendering="auto"/>
<text x="216.5" y="474" font-size="14" fill="#000098" textLength="131" lengthAdjust="spacingAndGlyphs">8,488.14 (2012/10/15)</text>
<text x="12.5" y="115" font-size="14" fill="#000" textLength="89.5" lengthAdjust="spacingAndGlyphs">日経平均(指数)</text>
<text x="108" y="115" font-size="14" fill="#000" textLength="88" lengthAdjust="spacingAndGlyphs">Bollinger_Bands</text>
<text x="200" y="115" font-size="14" fill="#000" textLength="34" lengthAdjust="spacingAndGlyphs">(20,2)</text>
<text x="237" y="115" font-size="14" fill="#000" textLength="69" lengthAdjust="spacingAndGlyphs">2013/11/08</text>
<text x="311" y="115" font-size="14" fill="#009838" textLength="55" lengthAdjust="spacingAndGlyphs">14,384.77</text>
<text x="369" y="115" font-size="14" fill="#f05800" textLength="57" lengthAdjust="spacingAndGlyphs">14,736.00</text>
<text x="428" y="115" font-size="14" fill="#0054c8" textLength="55" lengthAdjust="spacingAndGlyphs">14,033.54</text>
<text x="11.5" y="496" font-size="14" fill="#000" textLength="105.5" lengthAdjust="spacingAndGlyphs">MACD_EMA_Signal</text>
<text x="120.5" y="496" font-size="14" fill="#000" textLength="50.5" lengthAdjust="spacingAndGlyphs">(12,26,9)</text>
<text x="173" y="496" font-size="14" fill="#000" textLength="71" lengthAdjust="spacingAndGlyphs">2013/11/08</text>
<text x="248" y="496" font-size="14" fill="#009838" textLength="38" lengthAdjust="spacingAndGlyphs">-23.38</text>
<text x="289" y="496" font-size="14" fill="#f05800" textLength="32" lengthAdjust="spacingAndGlyphs">15.76</text>
<text x="325" y="496" font-size="14" fill="#2020f0" textLength="37" lengthAdjust="spacingAndGlyphs">-39.14</text>
<text x="366.5" y="496" font-size="14" fill="#ff00e0" textLength="25.5" lengthAdjust="spacingAndGlyphs">0.00</text>
<text x="11.5" y="603" font-size="14" fill="#000" textLength="45.5" lengthAdjust="spacingAndGlyphs">RSI (14)</text>
<text x="60" y="603" font-size="14" fill="#000" textLength="71" lengthAdjust="spacingAndGlyphs">2013/11/08</text>
<text x="134" y="603" font-size="14" fill="#009838" textLength="32" lengthAdjust="spacingAndGlyphs">38.90</text>
<text x="169" y="603" font-size="14" fill="#f05800" textLength="32" lengthAdjust="spacingAndGlyphs">30.00</text>
<text x="205" y="603" font-size="14" fill="#0054c8" textLength="32" lengthAdjust="spacingAndGlyphs">70.00</text>
<text x="11" y="706" font-size="14" fill="#000" textLength="41" lengthAdjust="spacingAndGlyphs">乖離度</text>
<text x="56.5" y="706" font-size="14" fill="#000" textLength="23.5" lengthAdjust="spacingAndGlyphs">(20)</text>
<text x="82.5" y="706" font-size="14" fill="#000" textLength="69.5" lengthAdjust="spacingAndGlyphs">2013/11/08</text>
<text x="156" y="706" font-size="14" fill="#009838" textLength="31.5" lengthAdjust="spacingAndGlyphs">97.93</text>
<text x="191.5" y="706" font-size="14" fill="#f05800" textLength="39" lengthAdjust="spacingAndGlyphs">100.00</text>
<text x="12" y="784.5" font-size="14" fill="#000" textLength="120" lengthAdjust="spacingAndGlyphs">サイコロジカルライン</text>
<text x="137.5" y="784.5" font-size="14" fill="#000" textLength="23.5" lengthAdjust="spacingAndGlyphs">(12)</text>
<text x="164" y="784.5" font-size="14" fill="#000" textLength="69.5" lengthAdjust="spacingAndGlyphs">2013/11/08</text>
<text x="237.5" y="784.5" font-size="14" fill="#009838" textLength="31" lengthAdjust="spacingAndGlyphs">41.67</text>
<text x="272.5" y="784.5" font-size="14" fill="#f05800" textLength="31.5" lengthAdjust="spacingAndGlyphs">25.00</text>
<text x="308.5" y="784.5" font-size="14" fill="#0054c8" textLength="31" lengthAdjust="spacingAndGlyphs">75.00</text>
<text x="12" y="888" font-size="14" fill="#000" textLength="40" lengthAdjust="spacingAndGlyphs">出来高</text>
<text x="56.5" y="888" font-size="14" fill="#000" textLength="70" lengthAdjust="spacingAndGlyphs">2013/11/08</text>
<text x="130" y="888" font-size="14" fill="#009838" textLength="73.5" lengthAdjust="spacingAndGlyphs">2,232,950.00</text>
<g stroke="#777" fill="#fff"><rect x="1504.500" y="483.5" width="8" height="8"/><rect x="1514.500" y="483.5" width="8" height="8"/></g>
<path d="M1506 487.5h5" stroke="#000" fill="none"/><path d="M1516 485l5 5m0-5l-5 5" stroke="#000" fill="none" shape-rendering="auto"/>
<g stroke="#777" fill="#fff"><rect x="1504.500" y="591.5" width="8" height="8"/><rect x="1514.500" y="591.5" width="8" height="8"/></g>
<path d="M1506 595.5h5" stroke="#000" fill="none"/><path d="M1516 593l5 5m0-5l-5 5" stroke="#000" fill="none" shape-rendering="auto"/>
<g stroke="#777" fill="#fff"><rect x="1504.500" y="693.5" width="8" height="8"/><rect x="1514.500" y="693.5" width="8" height="8"/></g>
<path d="M1506 697.5h5" stroke="#000" fill="none"/><path d="M1516 695l5 5m0-5l-5 5" stroke="#000" fill="none" shape-rendering="auto"/>
<g stroke="#777" fill="#fff"><rect x="1504.500" y="772.5" width="8" height="8"/><rect x="1514.500" y="772.5" width="8" height="8"/></g>
<path d="M1506 776.5h5" stroke="#000" fill="none"/><path d="M1516 774l5 5m0-5l-5 5" stroke="#000" fill="none" shape-rendering="auto"/>
<g stroke="#777" fill="#fff"><rect x="1504.500" y="875.5" width="8" height="8"/><rect x="1514.500" y="875.5" width="8" height="8"/></g>
<path d="M1506 879.5h5" stroke="#000" fill="none"/><path d="M1516 877l5 5m0-5l-5 5" stroke="#000" fill="none" shape-rendering="auto"/></svg>
<div class="a" style="left:11px;top:977px;width:1593px;height:13px;background:#d4d0c8"></div>
<div class="a" style="left:77px;top:977px;width:1403px;height:13px;background-color:#e9e7e2;background-image:linear-gradient(45deg,#d4d0c8 25%,transparent 25%,transparent 75%,#d4d0c8 75%),linear-gradient(45deg,#d4d0c8 25%,transparent 25%,transparent 75%,#d4d0c8 75%);background-size:2px 2px;background-position:0 0,1px 1px"></div>
<div class="a" style="left:16px;top:981px;width:25px;height:2px;background:#fff;border-bottom:1px solid #808080"></div><div class="a" style="left:16px;top:985px;width:25px;height:2px;background:#fff;border-bottom:1px solid #808080"></div>
<div class="a" style="left:47px;top:977px;width:14px;height:13px;background:#d4d0c8;border:1px solid #fff;border-right:1px solid #404040;border-bottom:1px solid #404040"><svg width="12" height="11"><path d="M7 2v7l-4-3.500z" fill="#000"/></svg></div>
<div class="a" style="left:61px;top:977px;width:16px;height:13px;background:#d4d0c8;border:1px solid #fff;border-right:1px solid #404040;border-bottom:1px solid #404040"></div>
<div class="a" style="left:1480px;top:977px;width:15px;height:13px;background:#d4d0c8;border:1px solid #fff;border-right:1px solid #404040;border-bottom:1px solid #404040"><svg width="12" height="11"><path d="M5 2v7l4-3.500z" fill="#000"/></svg></div>
<svg class="a" style="left:1497px;top:977px" width="107" height="13" viewBox="0 0 107 13"><path d="M1 6.500l6-6v12zM15 6.500l-6-6v12z" fill="#000"/><path d="M19 .5l6 6-6 6zM31 .5l-6 6 6 6z" fill="#000"/><circle cx="42.500" cy="6.500" r="5" fill="#fff" stroke="#000" stroke-width="1.300"/><path d="M39.500 6.500h6M42.500 3.500v6" stroke="#000" stroke-width="1.500"/><circle cx="60.500" cy="6.500" r="5" fill="#eee" stroke="#aaa" stroke-width="1.300"/><path d="M57.500 6.500h6" stroke="#aaa" stroke-width="1.500"/><path d="M73.500 1.500h10v10h-10zM78.500 0v13M72 6.500h13" fill="none" stroke="#aaa"/><rect x="91.500" y="1.500" width="10" height="10" fill="#fff" stroke="#000"/><path d="M91.500 1.500l10 10M101.500 1.500l-10 10" stroke="#000"/></svg>
</body></html>
